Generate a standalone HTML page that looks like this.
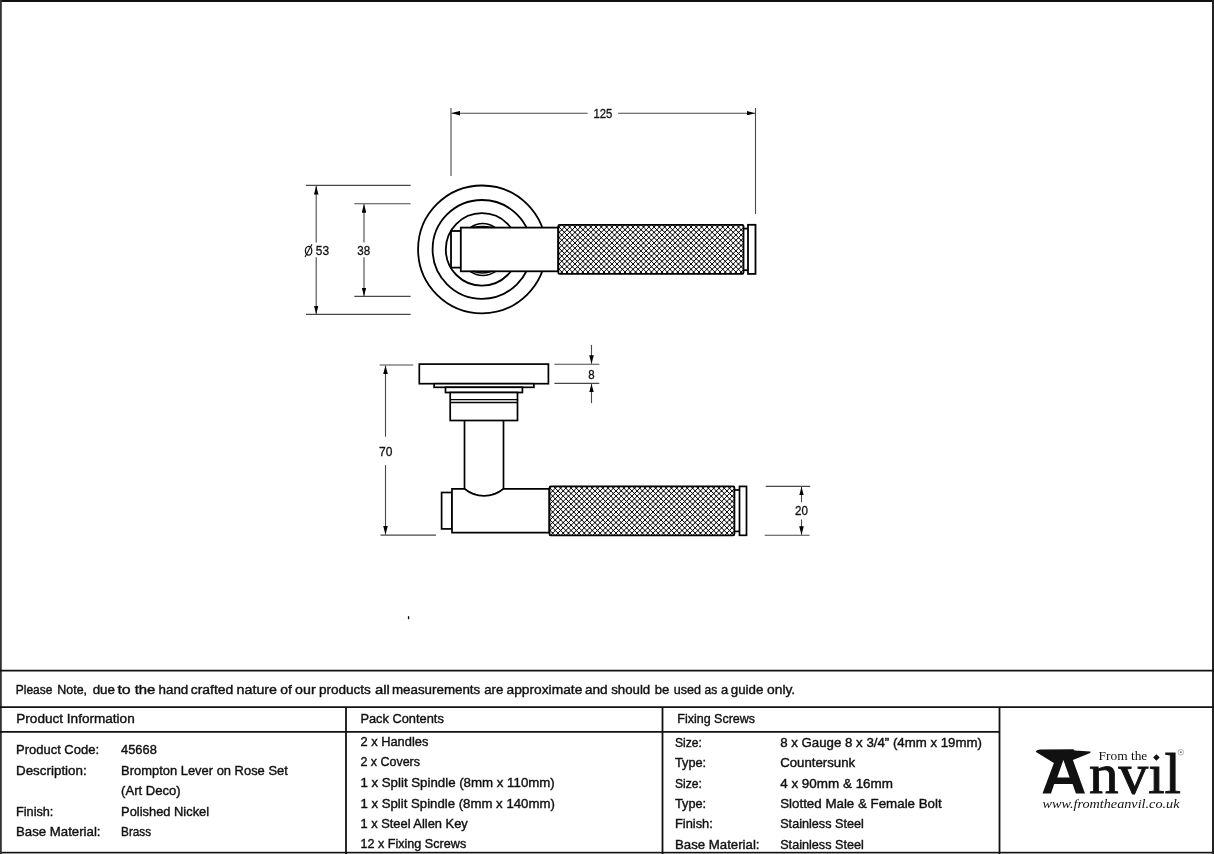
<!DOCTYPE html>
<html><head><meta charset="utf-8">
<style>
html,body{margin:0;padding:0;background:#fff;width:1214px;height:854px;overflow:hidden}
svg{display:block;will-change:transform}
.t{font-family:"Liberation Sans",sans-serif;font-size:13px;fill:#111;stroke:#111;stroke-width:0.4px}
.d{font-family:"Liberation Sans",sans-serif;font-size:13.4px;fill:#111;stroke:#111;stroke-width:0.32px}
</style></head><body>
<svg width="1214" height="854" viewBox="0 0 1214 854">
<defs>
<marker id="ar" viewBox="0 0 8.5 4.6" refX="8.5" refY="2.3" markerWidth="8.5" markerHeight="4.6" markerUnits="userSpaceOnUse" orient="auto">
<path d="M0 0L8.5 2.3L0 4.6z" fill="#000"/>
</marker>
</defs>
<rect x="0" y="0" width="1214" height="2" fill="#111"/>
<rect x="0" y="851.8" width="1214" height="1.4" fill="#111"/><rect x="0" y="853.2" width="1214" height="0.8" fill="#888"/>
<rect x="0" y="0" width="1.8" height="854" fill="#333"/>
<rect x="1212" y="0" width="2" height="854" fill="#222"/>

<!-- ===== TOP VIEW ===== -->
<g fill="none" stroke="#484848" stroke-width="1.1">
 <!-- 125 -->
 <line x1="451" y1="108" x2="451" y2="176"/>
 <line x1="755.5" y1="108" x2="755.5" y2="214"/>
 <line x1="587.6" y1="113.2" x2="451.5" y2="113.2" marker-end="url(#ar)"/>
 <line x1="618.1" y1="113.2" x2="755" y2="113.2" marker-end="url(#ar)"/>
 <!-- Ø53 -->
 <line x1="306" y1="185.4" x2="410.6" y2="185.4"/>
 <line x1="306" y1="314.4" x2="410.6" y2="314.4"/>
 <line x1="316.2" y1="242.4" x2="316.2" y2="186" marker-end="url(#ar)"/>
 <line x1="316.2" y1="257.2" x2="316.2" y2="314" marker-end="url(#ar)"/>
 <!-- 38 -->
 <line x1="354.3" y1="203.7" x2="410.6" y2="203.7"/>
 <line x1="354.3" y1="296.4" x2="410.6" y2="296.4"/>
 <line x1="364" y1="242.4" x2="364" y2="204.2" marker-end="url(#ar)"/>
 <line x1="364" y1="257.2" x2="364" y2="296" marker-end="url(#ar)"/>
</g>
<ellipse cx="308.6" cy="250.7" rx="3.2" ry="4.4" fill="none" stroke="#111" stroke-width="1.25"/><line x1="305" y1="257" x2="312" y2="244.3" stroke="#111" stroke-width="1.1"/>
<text class="d" x="315.8" y="255.3" textLength="13.3" lengthAdjust="spacingAndGlyphs">53</text>
<text class="d" x="357.3" y="255.3" textLength="12.9" lengthAdjust="spacingAndGlyphs">38</text>
<text class="d" x="593.4" y="117.6" textLength="18.9" lengthAdjust="spacingAndGlyphs">125</text>

<g fill="#fff" stroke="#000" stroke-width="1.8">
 <circle cx="482" cy="249.4" r="63.9"/>
 <circle cx="482" cy="249.4" r="49.4"/>
 <circle cx="482" cy="249.4" r="36.2"/>
  <rect x="451" y="231" width="10" height="36.6"/>
 <rect x="460.8" y="227.6" width="97.5" height="43.7"/>
 <path d="M470.2 227.6Q482.75 219.6 495.3 227.6M473 227.6Q482.5 225.6 492 227.6M469.9 271.3Q482.85 279.5 495.8 271.3M473 271.3Q482.5 274.5 492 271.3" fill="none" stroke-width="1.5"/>
 <line x1="743.5" y1="228.6" x2="748" y2="228.6"/>
 <line x1="743.5" y1="270.2" x2="748" y2="270.2"/>
 <rect x="748" y="224.8" width="7.5" height="49.1"/>
</g>
<clipPath id="c1"><rect x="558.3" y="224.8" width="185.2" height="49.1" rx="1.3"/></clipPath><rect x="558.3" y="224.8" width="185.2" height="49.1" rx="1.3" fill="#fff"/><g clip-path="url(#c1)"><path d="M555.30 281.30L746.50 472.50M555.30 276.02L746.50 467.22M555.30 270.75L746.50 461.95M555.30 265.47L746.50 456.67M555.30 260.20L746.50 451.40M555.30 254.92L746.50 446.12M555.30 249.64L746.50 440.84M555.30 244.37L746.50 435.57M555.30 239.09L746.50 430.29M555.30 233.82L746.50 425.02M555.30 228.54L746.50 419.74M555.30 223.26L746.50 414.46M555.30 217.99L746.50 409.19M555.30 212.71L746.50 403.91M555.30 207.44L746.50 398.64M555.30 202.16L746.50 393.36M555.30 196.88L746.50 388.08M555.30 191.61L746.50 382.81M555.30 186.33L746.50 377.53M555.30 181.06L746.50 372.26M555.30 175.78L746.50 366.98M555.30 170.50L746.50 361.70M555.30 165.23L746.50 356.43M555.30 159.95L746.50 351.15M555.30 154.68L746.50 345.88M555.30 149.40L746.50 340.60M555.30 144.12L746.50 335.32M555.30 138.85L746.50 330.05M555.30 133.57L746.50 324.77M555.30 128.30L746.50 319.50M555.30 123.02L746.50 314.22M555.30 117.74L746.50 308.94M555.30 112.47L746.50 303.67M555.30 107.19L746.50 298.39M555.30 101.92L746.50 293.12M555.30 96.64L746.50 287.84M555.30 91.36L746.50 282.56M555.30 86.09L746.50 277.29M555.30 80.81L746.50 272.01M555.30 75.54L746.50 266.74M555.30 70.26L746.50 261.46M555.30 64.98L746.50 256.18M555.30 59.71L746.50 250.91M555.30 54.43L746.50 245.63M555.30 49.16L746.50 240.36M555.30 43.88L746.50 235.08M555.30 38.60L746.50 229.80M555.30 33.33L746.50 224.53M555.30 28.05L746.50 219.25M555.30 220.34L746.50 29.14M555.30 225.62L746.50 34.42M555.30 230.89L746.50 39.69M555.30 236.17L746.50 44.97M555.30 241.44L746.50 50.24M555.30 246.72L746.50 55.52M555.30 252.00L746.50 60.80M555.30 257.27L746.50 66.07M555.30 262.55L746.50 71.35M555.30 267.82L746.50 76.62M555.30 273.10L746.50 81.90M555.30 278.38L746.50 87.18M555.30 283.65L746.50 92.45M555.30 288.93L746.50 97.73M555.30 294.20L746.50 103.00M555.30 299.48L746.50 108.28M555.30 304.76L746.50 113.56M555.30 310.03L746.50 118.83M555.30 315.31L746.50 124.11M555.30 320.58L746.50 129.38M555.30 325.86L746.50 134.66M555.30 331.14L746.50 139.94M555.30 336.41L746.50 145.21M555.30 341.69L746.50 150.49M555.30 346.96L746.50 155.76M555.30 352.24L746.50 161.04M555.30 357.52L746.50 166.32M555.30 362.79L746.50 171.59M555.30 368.07L746.50 176.87M555.30 373.34L746.50 182.14M555.30 378.62L746.50 187.42M555.30 383.90L746.50 192.70M555.30 389.17L746.50 197.97M555.30 394.45L746.50 203.25M555.30 399.72L746.50 208.52M555.30 405.00L746.50 213.80M555.30 410.28L746.50 219.08M555.30 415.55L746.50 224.35M555.30 420.83L746.50 229.63M555.30 426.10L746.50 234.90M555.30 431.38L746.50 240.18M555.30 436.66L746.50 245.46M555.30 441.93L746.50 250.73M555.30 447.21L746.50 256.01M555.30 452.48L746.50 261.28M555.30 457.76L746.50 266.56M555.30 463.04L746.50 271.84M555.30 468.31L746.50 277.11" stroke="#000" stroke-width="1.0" fill="none"/><path d="M561.00 224.44a0.75 0.75 0 1 0 1.50 0a0.75 0.75 0 1 0 -1.50 0M558.36 227.08a0.75 0.75 0 1 0 1.50 0a0.75 0.75 0 1 0 -1.50 0M561.00 229.72a0.75 0.75 0 1 0 1.50 0a0.75 0.75 0 1 0 -1.50 0M558.36 232.35a0.75 0.75 0 1 0 1.50 0a0.75 0.75 0 1 0 -1.50 0M561.00 234.99a0.75 0.75 0 1 0 1.50 0a0.75 0.75 0 1 0 -1.50 0M558.36 237.63a0.75 0.75 0 1 0 1.50 0a0.75 0.75 0 1 0 -1.50 0M561.00 240.27a0.75 0.75 0 1 0 1.50 0a0.75 0.75 0 1 0 -1.50 0M558.36 242.91a0.75 0.75 0 1 0 1.50 0a0.75 0.75 0 1 0 -1.50 0M561.00 245.54a0.75 0.75 0 1 0 1.50 0a0.75 0.75 0 1 0 -1.50 0M558.36 248.18a0.75 0.75 0 1 0 1.50 0a0.75 0.75 0 1 0 -1.50 0M561.00 250.82a0.75 0.75 0 1 0 1.50 0a0.75 0.75 0 1 0 -1.50 0M558.36 253.46a0.75 0.75 0 1 0 1.50 0a0.75 0.75 0 1 0 -1.50 0M561.00 256.10a0.75 0.75 0 1 0 1.50 0a0.75 0.75 0 1 0 -1.50 0M558.36 258.73a0.75 0.75 0 1 0 1.50 0a0.75 0.75 0 1 0 -1.50 0M561.00 261.37a0.75 0.75 0 1 0 1.50 0a0.75 0.75 0 1 0 -1.50 0M558.36 264.01a0.75 0.75 0 1 0 1.50 0a0.75 0.75 0 1 0 -1.50 0M561.00 266.65a0.75 0.75 0 1 0 1.50 0a0.75 0.75 0 1 0 -1.50 0M558.36 269.29a0.75 0.75 0 1 0 1.50 0a0.75 0.75 0 1 0 -1.50 0M561.00 271.92a0.75 0.75 0 1 0 1.50 0a0.75 0.75 0 1 0 -1.50 0M558.36 274.56a0.75 0.75 0 1 0 1.50 0a0.75 0.75 0 1 0 -1.50 0M566.28 224.44a0.75 0.75 0 1 0 1.50 0a0.75 0.75 0 1 0 -1.50 0M563.64 227.08a0.75 0.75 0 1 0 1.50 0a0.75 0.75 0 1 0 -1.50 0M566.28 229.72a0.75 0.75 0 1 0 1.50 0a0.75 0.75 0 1 0 -1.50 0M563.64 232.35a0.75 0.75 0 1 0 1.50 0a0.75 0.75 0 1 0 -1.50 0M566.28 234.99a0.75 0.75 0 1 0 1.50 0a0.75 0.75 0 1 0 -1.50 0M563.64 237.63a0.75 0.75 0 1 0 1.50 0a0.75 0.75 0 1 0 -1.50 0M566.28 240.27a0.75 0.75 0 1 0 1.50 0a0.75 0.75 0 1 0 -1.50 0M563.64 242.91a0.75 0.75 0 1 0 1.50 0a0.75 0.75 0 1 0 -1.50 0M566.28 245.54a0.75 0.75 0 1 0 1.50 0a0.75 0.75 0 1 0 -1.50 0M563.64 248.18a0.75 0.75 0 1 0 1.50 0a0.75 0.75 0 1 0 -1.50 0M566.28 250.82a0.75 0.75 0 1 0 1.50 0a0.75 0.75 0 1 0 -1.50 0M563.64 253.46a0.75 0.75 0 1 0 1.50 0a0.75 0.75 0 1 0 -1.50 0M566.28 256.10a0.75 0.75 0 1 0 1.50 0a0.75 0.75 0 1 0 -1.50 0M563.64 258.73a0.75 0.75 0 1 0 1.50 0a0.75 0.75 0 1 0 -1.50 0M566.28 261.37a0.75 0.75 0 1 0 1.50 0a0.75 0.75 0 1 0 -1.50 0M563.64 264.01a0.75 0.75 0 1 0 1.50 0a0.75 0.75 0 1 0 -1.50 0M566.28 266.65a0.75 0.75 0 1 0 1.50 0a0.75 0.75 0 1 0 -1.50 0M563.64 269.29a0.75 0.75 0 1 0 1.50 0a0.75 0.75 0 1 0 -1.50 0M566.28 271.92a0.75 0.75 0 1 0 1.50 0a0.75 0.75 0 1 0 -1.50 0M563.64 274.56a0.75 0.75 0 1 0 1.50 0a0.75 0.75 0 1 0 -1.50 0M571.55 224.44a0.75 0.75 0 1 0 1.50 0a0.75 0.75 0 1 0 -1.50 0M568.92 227.08a0.75 0.75 0 1 0 1.50 0a0.75 0.75 0 1 0 -1.50 0M571.55 229.72a0.75 0.75 0 1 0 1.50 0a0.75 0.75 0 1 0 -1.50 0M568.92 232.35a0.75 0.75 0 1 0 1.50 0a0.75 0.75 0 1 0 -1.50 0M571.55 234.99a0.75 0.75 0 1 0 1.50 0a0.75 0.75 0 1 0 -1.50 0M568.92 237.63a0.75 0.75 0 1 0 1.50 0a0.75 0.75 0 1 0 -1.50 0M571.55 240.27a0.75 0.75 0 1 0 1.50 0a0.75 0.75 0 1 0 -1.50 0M568.92 242.91a0.75 0.75 0 1 0 1.50 0a0.75 0.75 0 1 0 -1.50 0M571.55 245.54a0.75 0.75 0 1 0 1.50 0a0.75 0.75 0 1 0 -1.50 0M568.92 248.18a0.75 0.75 0 1 0 1.50 0a0.75 0.75 0 1 0 -1.50 0M571.55 250.82a0.75 0.75 0 1 0 1.50 0a0.75 0.75 0 1 0 -1.50 0M568.92 253.46a0.75 0.75 0 1 0 1.50 0a0.75 0.75 0 1 0 -1.50 0M571.55 256.10a0.75 0.75 0 1 0 1.50 0a0.75 0.75 0 1 0 -1.50 0M568.92 258.73a0.75 0.75 0 1 0 1.50 0a0.75 0.75 0 1 0 -1.50 0M571.55 261.37a0.75 0.75 0 1 0 1.50 0a0.75 0.75 0 1 0 -1.50 0M568.92 264.01a0.75 0.75 0 1 0 1.50 0a0.75 0.75 0 1 0 -1.50 0M571.55 266.65a0.75 0.75 0 1 0 1.50 0a0.75 0.75 0 1 0 -1.50 0M568.92 269.29a0.75 0.75 0 1 0 1.50 0a0.75 0.75 0 1 0 -1.50 0M571.55 271.92a0.75 0.75 0 1 0 1.50 0a0.75 0.75 0 1 0 -1.50 0M568.92 274.56a0.75 0.75 0 1 0 1.50 0a0.75 0.75 0 1 0 -1.50 0M576.83 224.44a0.75 0.75 0 1 0 1.50 0a0.75 0.75 0 1 0 -1.50 0M574.19 227.08a0.75 0.75 0 1 0 1.50 0a0.75 0.75 0 1 0 -1.50 0M576.83 229.72a0.75 0.75 0 1 0 1.50 0a0.75 0.75 0 1 0 -1.50 0M574.19 232.35a0.75 0.75 0 1 0 1.50 0a0.75 0.75 0 1 0 -1.50 0M576.83 234.99a0.75 0.75 0 1 0 1.50 0a0.75 0.75 0 1 0 -1.50 0M574.19 237.63a0.75 0.75 0 1 0 1.50 0a0.75 0.75 0 1 0 -1.50 0M576.83 240.27a0.75 0.75 0 1 0 1.50 0a0.75 0.75 0 1 0 -1.50 0M574.19 242.91a0.75 0.75 0 1 0 1.50 0a0.75 0.75 0 1 0 -1.50 0M576.83 245.54a0.75 0.75 0 1 0 1.50 0a0.75 0.75 0 1 0 -1.50 0M574.19 248.18a0.75 0.75 0 1 0 1.50 0a0.75 0.75 0 1 0 -1.50 0M576.83 250.82a0.75 0.75 0 1 0 1.50 0a0.75 0.75 0 1 0 -1.50 0M574.19 253.46a0.75 0.75 0 1 0 1.50 0a0.75 0.75 0 1 0 -1.50 0M576.83 256.10a0.75 0.75 0 1 0 1.50 0a0.75 0.75 0 1 0 -1.50 0M574.19 258.73a0.75 0.75 0 1 0 1.50 0a0.75 0.75 0 1 0 -1.50 0M576.83 261.37a0.75 0.75 0 1 0 1.50 0a0.75 0.75 0 1 0 -1.50 0M574.19 264.01a0.75 0.75 0 1 0 1.50 0a0.75 0.75 0 1 0 -1.50 0M576.83 266.65a0.75 0.75 0 1 0 1.50 0a0.75 0.75 0 1 0 -1.50 0M574.19 269.29a0.75 0.75 0 1 0 1.50 0a0.75 0.75 0 1 0 -1.50 0M576.83 271.92a0.75 0.75 0 1 0 1.50 0a0.75 0.75 0 1 0 -1.50 0M574.19 274.56a0.75 0.75 0 1 0 1.50 0a0.75 0.75 0 1 0 -1.50 0M582.11 224.44a0.75 0.75 0 1 0 1.50 0a0.75 0.75 0 1 0 -1.50 0M579.47 227.08a0.75 0.75 0 1 0 1.50 0a0.75 0.75 0 1 0 -1.50 0M582.11 229.72a0.75 0.75 0 1 0 1.50 0a0.75 0.75 0 1 0 -1.50 0M579.47 232.35a0.75 0.75 0 1 0 1.50 0a0.75 0.75 0 1 0 -1.50 0M582.11 234.99a0.75 0.75 0 1 0 1.50 0a0.75 0.75 0 1 0 -1.50 0M579.47 237.63a0.75 0.75 0 1 0 1.50 0a0.75 0.75 0 1 0 -1.50 0M582.11 240.27a0.75 0.75 0 1 0 1.50 0a0.75 0.75 0 1 0 -1.50 0M579.47 242.91a0.75 0.75 0 1 0 1.50 0a0.75 0.75 0 1 0 -1.50 0M582.11 245.54a0.75 0.75 0 1 0 1.50 0a0.75 0.75 0 1 0 -1.50 0M579.47 248.18a0.75 0.75 0 1 0 1.50 0a0.75 0.75 0 1 0 -1.50 0M582.11 250.82a0.75 0.75 0 1 0 1.50 0a0.75 0.75 0 1 0 -1.50 0M579.47 253.46a0.75 0.75 0 1 0 1.50 0a0.75 0.75 0 1 0 -1.50 0M582.11 256.10a0.75 0.75 0 1 0 1.50 0a0.75 0.75 0 1 0 -1.50 0M579.47 258.73a0.75 0.75 0 1 0 1.50 0a0.75 0.75 0 1 0 -1.50 0M582.11 261.37a0.75 0.75 0 1 0 1.50 0a0.75 0.75 0 1 0 -1.50 0M579.47 264.01a0.75 0.75 0 1 0 1.50 0a0.75 0.75 0 1 0 -1.50 0M582.11 266.65a0.75 0.75 0 1 0 1.50 0a0.75 0.75 0 1 0 -1.50 0M579.47 269.29a0.75 0.75 0 1 0 1.50 0a0.75 0.75 0 1 0 -1.50 0M582.11 271.92a0.75 0.75 0 1 0 1.50 0a0.75 0.75 0 1 0 -1.50 0M579.47 274.56a0.75 0.75 0 1 0 1.50 0a0.75 0.75 0 1 0 -1.50 0M587.38 224.44a0.75 0.75 0 1 0 1.50 0a0.75 0.75 0 1 0 -1.50 0M584.74 227.08a0.75 0.75 0 1 0 1.50 0a0.75 0.75 0 1 0 -1.50 0M587.38 229.72a0.75 0.75 0 1 0 1.50 0a0.75 0.75 0 1 0 -1.50 0M584.74 232.35a0.75 0.75 0 1 0 1.50 0a0.75 0.75 0 1 0 -1.50 0M587.38 234.99a0.75 0.75 0 1 0 1.50 0a0.75 0.75 0 1 0 -1.50 0M584.74 237.63a0.75 0.75 0 1 0 1.50 0a0.75 0.75 0 1 0 -1.50 0M587.38 240.27a0.75 0.75 0 1 0 1.50 0a0.75 0.75 0 1 0 -1.50 0M584.74 242.91a0.75 0.75 0 1 0 1.50 0a0.75 0.75 0 1 0 -1.50 0M587.38 245.54a0.75 0.75 0 1 0 1.50 0a0.75 0.75 0 1 0 -1.50 0M584.74 248.18a0.75 0.75 0 1 0 1.50 0a0.75 0.75 0 1 0 -1.50 0M587.38 250.82a0.75 0.75 0 1 0 1.50 0a0.75 0.75 0 1 0 -1.50 0M584.74 253.46a0.75 0.75 0 1 0 1.50 0a0.75 0.75 0 1 0 -1.50 0M587.38 256.10a0.75 0.75 0 1 0 1.50 0a0.75 0.75 0 1 0 -1.50 0M584.74 258.73a0.75 0.75 0 1 0 1.50 0a0.75 0.75 0 1 0 -1.50 0M587.38 261.37a0.75 0.75 0 1 0 1.50 0a0.75 0.75 0 1 0 -1.50 0M584.74 264.01a0.75 0.75 0 1 0 1.50 0a0.75 0.75 0 1 0 -1.50 0M587.38 266.65a0.75 0.75 0 1 0 1.50 0a0.75 0.75 0 1 0 -1.50 0M584.74 269.29a0.75 0.75 0 1 0 1.50 0a0.75 0.75 0 1 0 -1.50 0M587.38 271.92a0.75 0.75 0 1 0 1.50 0a0.75 0.75 0 1 0 -1.50 0M584.74 274.56a0.75 0.75 0 1 0 1.50 0a0.75 0.75 0 1 0 -1.50 0M592.66 224.44a0.75 0.75 0 1 0 1.50 0a0.75 0.75 0 1 0 -1.50 0M590.02 227.08a0.75 0.75 0 1 0 1.50 0a0.75 0.75 0 1 0 -1.50 0M592.66 229.72a0.75 0.75 0 1 0 1.50 0a0.75 0.75 0 1 0 -1.50 0M590.02 232.35a0.75 0.75 0 1 0 1.50 0a0.75 0.75 0 1 0 -1.50 0M592.66 234.99a0.75 0.75 0 1 0 1.50 0a0.75 0.75 0 1 0 -1.50 0M590.02 237.63a0.75 0.75 0 1 0 1.50 0a0.75 0.75 0 1 0 -1.50 0M592.66 240.27a0.75 0.75 0 1 0 1.50 0a0.75 0.75 0 1 0 -1.50 0M590.02 242.91a0.75 0.75 0 1 0 1.50 0a0.75 0.75 0 1 0 -1.50 0M592.66 245.54a0.75 0.75 0 1 0 1.50 0a0.75 0.75 0 1 0 -1.50 0M590.02 248.18a0.75 0.75 0 1 0 1.50 0a0.75 0.75 0 1 0 -1.50 0M592.66 250.82a0.75 0.75 0 1 0 1.50 0a0.75 0.75 0 1 0 -1.50 0M590.02 253.46a0.75 0.75 0 1 0 1.50 0a0.75 0.75 0 1 0 -1.50 0M592.66 256.10a0.75 0.75 0 1 0 1.50 0a0.75 0.75 0 1 0 -1.50 0M590.02 258.73a0.75 0.75 0 1 0 1.50 0a0.75 0.75 0 1 0 -1.50 0M592.66 261.37a0.75 0.75 0 1 0 1.50 0a0.75 0.75 0 1 0 -1.50 0M590.02 264.01a0.75 0.75 0 1 0 1.50 0a0.75 0.75 0 1 0 -1.50 0M592.66 266.65a0.75 0.75 0 1 0 1.50 0a0.75 0.75 0 1 0 -1.50 0M590.02 269.29a0.75 0.75 0 1 0 1.50 0a0.75 0.75 0 1 0 -1.50 0M592.66 271.92a0.75 0.75 0 1 0 1.50 0a0.75 0.75 0 1 0 -1.50 0M590.02 274.56a0.75 0.75 0 1 0 1.50 0a0.75 0.75 0 1 0 -1.50 0M597.93 224.44a0.75 0.75 0 1 0 1.50 0a0.75 0.75 0 1 0 -1.50 0M595.30 227.08a0.75 0.75 0 1 0 1.50 0a0.75 0.75 0 1 0 -1.50 0M597.93 229.72a0.75 0.75 0 1 0 1.50 0a0.75 0.75 0 1 0 -1.50 0M595.30 232.35a0.75 0.75 0 1 0 1.50 0a0.75 0.75 0 1 0 -1.50 0M597.93 234.99a0.75 0.75 0 1 0 1.50 0a0.75 0.75 0 1 0 -1.50 0M595.30 237.63a0.75 0.75 0 1 0 1.50 0a0.75 0.75 0 1 0 -1.50 0M597.93 240.27a0.75 0.75 0 1 0 1.50 0a0.75 0.75 0 1 0 -1.50 0M595.30 242.91a0.75 0.75 0 1 0 1.50 0a0.75 0.75 0 1 0 -1.50 0M597.93 245.54a0.75 0.75 0 1 0 1.50 0a0.75 0.75 0 1 0 -1.50 0M595.30 248.18a0.75 0.75 0 1 0 1.50 0a0.75 0.75 0 1 0 -1.50 0M597.93 250.82a0.75 0.75 0 1 0 1.50 0a0.75 0.75 0 1 0 -1.50 0M595.30 253.46a0.75 0.75 0 1 0 1.50 0a0.75 0.75 0 1 0 -1.50 0M597.93 256.10a0.75 0.75 0 1 0 1.50 0a0.75 0.75 0 1 0 -1.50 0M595.30 258.73a0.75 0.75 0 1 0 1.50 0a0.75 0.75 0 1 0 -1.50 0M597.93 261.37a0.75 0.75 0 1 0 1.50 0a0.75 0.75 0 1 0 -1.50 0M595.30 264.01a0.75 0.75 0 1 0 1.50 0a0.75 0.75 0 1 0 -1.50 0M597.93 266.65a0.75 0.75 0 1 0 1.50 0a0.75 0.75 0 1 0 -1.50 0M595.30 269.29a0.75 0.75 0 1 0 1.50 0a0.75 0.75 0 1 0 -1.50 0M597.93 271.92a0.75 0.75 0 1 0 1.50 0a0.75 0.75 0 1 0 -1.50 0M595.30 274.56a0.75 0.75 0 1 0 1.50 0a0.75 0.75 0 1 0 -1.50 0M603.21 224.44a0.75 0.75 0 1 0 1.50 0a0.75 0.75 0 1 0 -1.50 0M600.57 227.08a0.75 0.75 0 1 0 1.50 0a0.75 0.75 0 1 0 -1.50 0M603.21 229.72a0.75 0.75 0 1 0 1.50 0a0.75 0.75 0 1 0 -1.50 0M600.57 232.35a0.75 0.75 0 1 0 1.50 0a0.75 0.75 0 1 0 -1.50 0M603.21 234.99a0.75 0.75 0 1 0 1.50 0a0.75 0.75 0 1 0 -1.50 0M600.57 237.63a0.75 0.75 0 1 0 1.50 0a0.75 0.75 0 1 0 -1.50 0M603.21 240.27a0.75 0.75 0 1 0 1.50 0a0.75 0.75 0 1 0 -1.50 0M600.57 242.91a0.75 0.75 0 1 0 1.50 0a0.75 0.75 0 1 0 -1.50 0M603.21 245.54a0.75 0.75 0 1 0 1.50 0a0.75 0.75 0 1 0 -1.50 0M600.57 248.18a0.75 0.75 0 1 0 1.50 0a0.75 0.75 0 1 0 -1.50 0M603.21 250.82a0.75 0.75 0 1 0 1.50 0a0.75 0.75 0 1 0 -1.50 0M600.57 253.46a0.75 0.75 0 1 0 1.50 0a0.75 0.75 0 1 0 -1.50 0M603.21 256.10a0.75 0.75 0 1 0 1.50 0a0.75 0.75 0 1 0 -1.50 0M600.57 258.73a0.75 0.75 0 1 0 1.50 0a0.75 0.75 0 1 0 -1.50 0M603.21 261.37a0.75 0.75 0 1 0 1.50 0a0.75 0.75 0 1 0 -1.50 0M600.57 264.01a0.75 0.75 0 1 0 1.50 0a0.75 0.75 0 1 0 -1.50 0M603.21 266.65a0.75 0.75 0 1 0 1.50 0a0.75 0.75 0 1 0 -1.50 0M600.57 269.29a0.75 0.75 0 1 0 1.50 0a0.75 0.75 0 1 0 -1.50 0M603.21 271.92a0.75 0.75 0 1 0 1.50 0a0.75 0.75 0 1 0 -1.50 0M600.57 274.56a0.75 0.75 0 1 0 1.50 0a0.75 0.75 0 1 0 -1.50 0M608.49 224.44a0.75 0.75 0 1 0 1.50 0a0.75 0.75 0 1 0 -1.50 0M605.85 227.08a0.75 0.75 0 1 0 1.50 0a0.75 0.75 0 1 0 -1.50 0M608.49 229.72a0.75 0.75 0 1 0 1.50 0a0.75 0.75 0 1 0 -1.50 0M605.85 232.35a0.75 0.75 0 1 0 1.50 0a0.75 0.75 0 1 0 -1.50 0M608.49 234.99a0.75 0.75 0 1 0 1.50 0a0.75 0.75 0 1 0 -1.50 0M605.85 237.63a0.75 0.75 0 1 0 1.50 0a0.75 0.75 0 1 0 -1.50 0M608.49 240.27a0.75 0.75 0 1 0 1.50 0a0.75 0.75 0 1 0 -1.50 0M605.85 242.91a0.75 0.75 0 1 0 1.50 0a0.75 0.75 0 1 0 -1.50 0M608.49 245.54a0.75 0.75 0 1 0 1.50 0a0.75 0.75 0 1 0 -1.50 0M605.85 248.18a0.75 0.75 0 1 0 1.50 0a0.75 0.75 0 1 0 -1.50 0M608.49 250.82a0.75 0.75 0 1 0 1.50 0a0.75 0.75 0 1 0 -1.50 0M605.85 253.46a0.75 0.75 0 1 0 1.50 0a0.75 0.75 0 1 0 -1.50 0M608.49 256.10a0.75 0.75 0 1 0 1.50 0a0.75 0.75 0 1 0 -1.50 0M605.85 258.73a0.75 0.75 0 1 0 1.50 0a0.75 0.75 0 1 0 -1.50 0M608.49 261.37a0.75 0.75 0 1 0 1.50 0a0.75 0.75 0 1 0 -1.50 0M605.85 264.01a0.75 0.75 0 1 0 1.50 0a0.75 0.75 0 1 0 -1.50 0M608.49 266.65a0.75 0.75 0 1 0 1.50 0a0.75 0.75 0 1 0 -1.50 0M605.85 269.29a0.75 0.75 0 1 0 1.50 0a0.75 0.75 0 1 0 -1.50 0M608.49 271.92a0.75 0.75 0 1 0 1.50 0a0.75 0.75 0 1 0 -1.50 0M605.85 274.56a0.75 0.75 0 1 0 1.50 0a0.75 0.75 0 1 0 -1.50 0M613.76 224.44a0.75 0.75 0 1 0 1.50 0a0.75 0.75 0 1 0 -1.50 0M611.12 227.08a0.75 0.75 0 1 0 1.50 0a0.75 0.75 0 1 0 -1.50 0M613.76 229.72a0.75 0.75 0 1 0 1.50 0a0.75 0.75 0 1 0 -1.50 0M611.12 232.35a0.75 0.75 0 1 0 1.50 0a0.75 0.75 0 1 0 -1.50 0M613.76 234.99a0.75 0.75 0 1 0 1.50 0a0.75 0.75 0 1 0 -1.50 0M611.12 237.63a0.75 0.75 0 1 0 1.50 0a0.75 0.75 0 1 0 -1.50 0M613.76 240.27a0.75 0.75 0 1 0 1.50 0a0.75 0.75 0 1 0 -1.50 0M611.12 242.91a0.75 0.75 0 1 0 1.50 0a0.75 0.75 0 1 0 -1.50 0M613.76 245.54a0.75 0.75 0 1 0 1.50 0a0.75 0.75 0 1 0 -1.50 0M611.12 248.18a0.75 0.75 0 1 0 1.50 0a0.75 0.75 0 1 0 -1.50 0M613.76 250.82a0.75 0.75 0 1 0 1.50 0a0.75 0.75 0 1 0 -1.50 0M611.12 253.46a0.75 0.75 0 1 0 1.50 0a0.75 0.75 0 1 0 -1.50 0M613.76 256.10a0.75 0.75 0 1 0 1.50 0a0.75 0.75 0 1 0 -1.50 0M611.12 258.73a0.75 0.75 0 1 0 1.50 0a0.75 0.75 0 1 0 -1.50 0M613.76 261.37a0.75 0.75 0 1 0 1.50 0a0.75 0.75 0 1 0 -1.50 0M611.12 264.01a0.75 0.75 0 1 0 1.50 0a0.75 0.75 0 1 0 -1.50 0M613.76 266.65a0.75 0.75 0 1 0 1.50 0a0.75 0.75 0 1 0 -1.50 0M611.12 269.29a0.75 0.75 0 1 0 1.50 0a0.75 0.75 0 1 0 -1.50 0M613.76 271.92a0.75 0.75 0 1 0 1.50 0a0.75 0.75 0 1 0 -1.50 0M611.12 274.56a0.75 0.75 0 1 0 1.50 0a0.75 0.75 0 1 0 -1.50 0M619.04 224.44a0.75 0.75 0 1 0 1.50 0a0.75 0.75 0 1 0 -1.50 0M616.40 227.08a0.75 0.75 0 1 0 1.50 0a0.75 0.75 0 1 0 -1.50 0M619.04 229.72a0.75 0.75 0 1 0 1.50 0a0.75 0.75 0 1 0 -1.50 0M616.40 232.35a0.75 0.75 0 1 0 1.50 0a0.75 0.75 0 1 0 -1.50 0M619.04 234.99a0.75 0.75 0 1 0 1.50 0a0.75 0.75 0 1 0 -1.50 0M616.40 237.63a0.75 0.75 0 1 0 1.50 0a0.75 0.75 0 1 0 -1.50 0M619.04 240.27a0.75 0.75 0 1 0 1.50 0a0.75 0.75 0 1 0 -1.50 0M616.40 242.91a0.75 0.75 0 1 0 1.50 0a0.75 0.75 0 1 0 -1.50 0M619.04 245.54a0.75 0.75 0 1 0 1.50 0a0.75 0.75 0 1 0 -1.50 0M616.40 248.18a0.75 0.75 0 1 0 1.50 0a0.75 0.75 0 1 0 -1.50 0M619.04 250.82a0.75 0.75 0 1 0 1.50 0a0.75 0.75 0 1 0 -1.50 0M616.40 253.46a0.75 0.75 0 1 0 1.50 0a0.75 0.75 0 1 0 -1.50 0M619.04 256.10a0.75 0.75 0 1 0 1.50 0a0.75 0.75 0 1 0 -1.50 0M616.40 258.73a0.75 0.75 0 1 0 1.50 0a0.75 0.75 0 1 0 -1.50 0M619.04 261.37a0.75 0.75 0 1 0 1.50 0a0.75 0.75 0 1 0 -1.50 0M616.40 264.01a0.75 0.75 0 1 0 1.50 0a0.75 0.75 0 1 0 -1.50 0M619.04 266.65a0.75 0.75 0 1 0 1.50 0a0.75 0.75 0 1 0 -1.50 0M616.40 269.29a0.75 0.75 0 1 0 1.50 0a0.75 0.75 0 1 0 -1.50 0M619.04 271.92a0.75 0.75 0 1 0 1.50 0a0.75 0.75 0 1 0 -1.50 0M616.40 274.56a0.75 0.75 0 1 0 1.50 0a0.75 0.75 0 1 0 -1.50 0M624.31 224.44a0.75 0.75 0 1 0 1.50 0a0.75 0.75 0 1 0 -1.50 0M621.68 227.08a0.75 0.75 0 1 0 1.50 0a0.75 0.75 0 1 0 -1.50 0M624.31 229.72a0.75 0.75 0 1 0 1.50 0a0.75 0.75 0 1 0 -1.50 0M621.68 232.35a0.75 0.75 0 1 0 1.50 0a0.75 0.75 0 1 0 -1.50 0M624.31 234.99a0.75 0.75 0 1 0 1.50 0a0.75 0.75 0 1 0 -1.50 0M621.68 237.63a0.75 0.75 0 1 0 1.50 0a0.75 0.75 0 1 0 -1.50 0M624.31 240.27a0.75 0.75 0 1 0 1.50 0a0.75 0.75 0 1 0 -1.50 0M621.68 242.91a0.75 0.75 0 1 0 1.50 0a0.75 0.75 0 1 0 -1.50 0M624.31 245.54a0.75 0.75 0 1 0 1.50 0a0.75 0.75 0 1 0 -1.50 0M621.68 248.18a0.75 0.75 0 1 0 1.50 0a0.75 0.75 0 1 0 -1.50 0M624.31 250.82a0.75 0.75 0 1 0 1.50 0a0.75 0.75 0 1 0 -1.50 0M621.68 253.46a0.75 0.75 0 1 0 1.50 0a0.75 0.75 0 1 0 -1.50 0M624.31 256.10a0.75 0.75 0 1 0 1.50 0a0.75 0.75 0 1 0 -1.50 0M621.68 258.73a0.75 0.75 0 1 0 1.50 0a0.75 0.75 0 1 0 -1.50 0M624.31 261.37a0.75 0.75 0 1 0 1.50 0a0.75 0.75 0 1 0 -1.50 0M621.68 264.01a0.75 0.75 0 1 0 1.50 0a0.75 0.75 0 1 0 -1.50 0M624.31 266.65a0.75 0.75 0 1 0 1.50 0a0.75 0.75 0 1 0 -1.50 0M621.68 269.29a0.75 0.75 0 1 0 1.50 0a0.75 0.75 0 1 0 -1.50 0M624.31 271.92a0.75 0.75 0 1 0 1.50 0a0.75 0.75 0 1 0 -1.50 0M621.68 274.56a0.75 0.75 0 1 0 1.50 0a0.75 0.75 0 1 0 -1.50 0M629.59 224.44a0.75 0.75 0 1 0 1.50 0a0.75 0.75 0 1 0 -1.50 0M626.95 227.08a0.75 0.75 0 1 0 1.50 0a0.75 0.75 0 1 0 -1.50 0M629.59 229.72a0.75 0.75 0 1 0 1.50 0a0.75 0.75 0 1 0 -1.50 0M626.95 232.35a0.75 0.75 0 1 0 1.50 0a0.75 0.75 0 1 0 -1.50 0M629.59 234.99a0.75 0.75 0 1 0 1.50 0a0.75 0.75 0 1 0 -1.50 0M626.95 237.63a0.75 0.75 0 1 0 1.50 0a0.75 0.75 0 1 0 -1.50 0M629.59 240.27a0.75 0.75 0 1 0 1.50 0a0.75 0.75 0 1 0 -1.50 0M626.95 242.91a0.75 0.75 0 1 0 1.50 0a0.75 0.75 0 1 0 -1.50 0M629.59 245.54a0.75 0.75 0 1 0 1.50 0a0.75 0.75 0 1 0 -1.50 0M626.95 248.18a0.75 0.75 0 1 0 1.50 0a0.75 0.75 0 1 0 -1.50 0M629.59 250.82a0.75 0.75 0 1 0 1.50 0a0.75 0.75 0 1 0 -1.50 0M626.95 253.46a0.75 0.75 0 1 0 1.50 0a0.75 0.75 0 1 0 -1.50 0M629.59 256.10a0.75 0.75 0 1 0 1.50 0a0.75 0.75 0 1 0 -1.50 0M626.95 258.73a0.75 0.75 0 1 0 1.50 0a0.75 0.75 0 1 0 -1.50 0M629.59 261.37a0.75 0.75 0 1 0 1.50 0a0.75 0.75 0 1 0 -1.50 0M626.95 264.01a0.75 0.75 0 1 0 1.50 0a0.75 0.75 0 1 0 -1.50 0M629.59 266.65a0.75 0.75 0 1 0 1.50 0a0.75 0.75 0 1 0 -1.50 0M626.95 269.29a0.75 0.75 0 1 0 1.50 0a0.75 0.75 0 1 0 -1.50 0M629.59 271.92a0.75 0.75 0 1 0 1.50 0a0.75 0.75 0 1 0 -1.50 0M626.95 274.56a0.75 0.75 0 1 0 1.50 0a0.75 0.75 0 1 0 -1.50 0M634.87 224.44a0.75 0.75 0 1 0 1.50 0a0.75 0.75 0 1 0 -1.50 0M632.23 227.08a0.75 0.75 0 1 0 1.50 0a0.75 0.75 0 1 0 -1.50 0M634.87 229.72a0.75 0.75 0 1 0 1.50 0a0.75 0.75 0 1 0 -1.50 0M632.23 232.35a0.75 0.75 0 1 0 1.50 0a0.75 0.75 0 1 0 -1.50 0M634.87 234.99a0.75 0.75 0 1 0 1.50 0a0.75 0.75 0 1 0 -1.50 0M632.23 237.63a0.75 0.75 0 1 0 1.50 0a0.75 0.75 0 1 0 -1.50 0M634.87 240.27a0.75 0.75 0 1 0 1.50 0a0.75 0.75 0 1 0 -1.50 0M632.23 242.91a0.75 0.75 0 1 0 1.50 0a0.75 0.75 0 1 0 -1.50 0M634.87 245.54a0.75 0.75 0 1 0 1.50 0a0.75 0.75 0 1 0 -1.50 0M632.23 248.18a0.75 0.75 0 1 0 1.50 0a0.75 0.75 0 1 0 -1.50 0M634.87 250.82a0.75 0.75 0 1 0 1.50 0a0.75 0.75 0 1 0 -1.50 0M632.23 253.46a0.75 0.75 0 1 0 1.50 0a0.75 0.75 0 1 0 -1.50 0M634.87 256.10a0.75 0.75 0 1 0 1.50 0a0.75 0.75 0 1 0 -1.50 0M632.23 258.73a0.75 0.75 0 1 0 1.50 0a0.75 0.75 0 1 0 -1.50 0M634.87 261.37a0.75 0.75 0 1 0 1.50 0a0.75 0.75 0 1 0 -1.50 0M632.23 264.01a0.75 0.75 0 1 0 1.50 0a0.75 0.75 0 1 0 -1.50 0M634.87 266.65a0.75 0.75 0 1 0 1.50 0a0.75 0.75 0 1 0 -1.50 0M632.23 269.29a0.75 0.75 0 1 0 1.50 0a0.75 0.75 0 1 0 -1.50 0M634.87 271.92a0.75 0.75 0 1 0 1.50 0a0.75 0.75 0 1 0 -1.50 0M632.23 274.56a0.75 0.75 0 1 0 1.50 0a0.75 0.75 0 1 0 -1.50 0M640.14 224.44a0.75 0.75 0 1 0 1.50 0a0.75 0.75 0 1 0 -1.50 0M637.50 227.08a0.75 0.75 0 1 0 1.50 0a0.75 0.75 0 1 0 -1.50 0M640.14 229.72a0.75 0.75 0 1 0 1.50 0a0.75 0.75 0 1 0 -1.50 0M637.50 232.35a0.75 0.75 0 1 0 1.50 0a0.75 0.75 0 1 0 -1.50 0M640.14 234.99a0.75 0.75 0 1 0 1.50 0a0.75 0.75 0 1 0 -1.50 0M637.50 237.63a0.75 0.75 0 1 0 1.50 0a0.75 0.75 0 1 0 -1.50 0M640.14 240.27a0.75 0.75 0 1 0 1.50 0a0.75 0.75 0 1 0 -1.50 0M637.50 242.91a0.75 0.75 0 1 0 1.50 0a0.75 0.75 0 1 0 -1.50 0M640.14 245.54a0.75 0.75 0 1 0 1.50 0a0.75 0.75 0 1 0 -1.50 0M637.50 248.18a0.75 0.75 0 1 0 1.50 0a0.75 0.75 0 1 0 -1.50 0M640.14 250.82a0.75 0.75 0 1 0 1.50 0a0.75 0.75 0 1 0 -1.50 0M637.50 253.46a0.75 0.75 0 1 0 1.50 0a0.75 0.75 0 1 0 -1.50 0M640.14 256.10a0.75 0.75 0 1 0 1.50 0a0.75 0.75 0 1 0 -1.50 0M637.50 258.73a0.75 0.75 0 1 0 1.50 0a0.75 0.75 0 1 0 -1.50 0M640.14 261.37a0.75 0.75 0 1 0 1.50 0a0.75 0.75 0 1 0 -1.50 0M637.50 264.01a0.75 0.75 0 1 0 1.50 0a0.75 0.75 0 1 0 -1.50 0M640.14 266.65a0.75 0.75 0 1 0 1.50 0a0.75 0.75 0 1 0 -1.50 0M637.50 269.29a0.75 0.75 0 1 0 1.50 0a0.75 0.75 0 1 0 -1.50 0M640.14 271.92a0.75 0.75 0 1 0 1.50 0a0.75 0.75 0 1 0 -1.50 0M637.50 274.56a0.75 0.75 0 1 0 1.50 0a0.75 0.75 0 1 0 -1.50 0M645.42 224.44a0.75 0.75 0 1 0 1.50 0a0.75 0.75 0 1 0 -1.50 0M642.78 227.08a0.75 0.75 0 1 0 1.50 0a0.75 0.75 0 1 0 -1.50 0M645.42 229.72a0.75 0.75 0 1 0 1.50 0a0.75 0.75 0 1 0 -1.50 0M642.78 232.35a0.75 0.75 0 1 0 1.50 0a0.75 0.75 0 1 0 -1.50 0M645.42 234.99a0.75 0.75 0 1 0 1.50 0a0.75 0.75 0 1 0 -1.50 0M642.78 237.63a0.75 0.75 0 1 0 1.50 0a0.75 0.75 0 1 0 -1.50 0M645.42 240.27a0.75 0.75 0 1 0 1.50 0a0.75 0.75 0 1 0 -1.50 0M642.78 242.91a0.75 0.75 0 1 0 1.50 0a0.75 0.75 0 1 0 -1.50 0M645.42 245.54a0.75 0.75 0 1 0 1.50 0a0.75 0.75 0 1 0 -1.50 0M642.78 248.18a0.75 0.75 0 1 0 1.50 0a0.75 0.75 0 1 0 -1.50 0M645.42 250.82a0.75 0.75 0 1 0 1.50 0a0.75 0.75 0 1 0 -1.50 0M642.78 253.46a0.75 0.75 0 1 0 1.50 0a0.75 0.75 0 1 0 -1.50 0M645.42 256.10a0.75 0.75 0 1 0 1.50 0a0.75 0.75 0 1 0 -1.50 0M642.78 258.73a0.75 0.75 0 1 0 1.50 0a0.75 0.75 0 1 0 -1.50 0M645.42 261.37a0.75 0.75 0 1 0 1.50 0a0.75 0.75 0 1 0 -1.50 0M642.78 264.01a0.75 0.75 0 1 0 1.50 0a0.75 0.75 0 1 0 -1.50 0M645.42 266.65a0.75 0.75 0 1 0 1.50 0a0.75 0.75 0 1 0 -1.50 0M642.78 269.29a0.75 0.75 0 1 0 1.50 0a0.75 0.75 0 1 0 -1.50 0M645.42 271.92a0.75 0.75 0 1 0 1.50 0a0.75 0.75 0 1 0 -1.50 0M642.78 274.56a0.75 0.75 0 1 0 1.50 0a0.75 0.75 0 1 0 -1.50 0M650.69 224.44a0.75 0.75 0 1 0 1.50 0a0.75 0.75 0 1 0 -1.50 0M648.06 227.08a0.75 0.75 0 1 0 1.50 0a0.75 0.75 0 1 0 -1.50 0M650.69 229.72a0.75 0.75 0 1 0 1.50 0a0.75 0.75 0 1 0 -1.50 0M648.06 232.35a0.75 0.75 0 1 0 1.50 0a0.75 0.75 0 1 0 -1.50 0M650.69 234.99a0.75 0.75 0 1 0 1.50 0a0.75 0.75 0 1 0 -1.50 0M648.06 237.63a0.75 0.75 0 1 0 1.50 0a0.75 0.75 0 1 0 -1.50 0M650.69 240.27a0.75 0.75 0 1 0 1.50 0a0.75 0.75 0 1 0 -1.50 0M648.06 242.91a0.75 0.75 0 1 0 1.50 0a0.75 0.75 0 1 0 -1.50 0M650.69 245.54a0.75 0.75 0 1 0 1.50 0a0.75 0.75 0 1 0 -1.50 0M648.06 248.18a0.75 0.75 0 1 0 1.50 0a0.75 0.75 0 1 0 -1.50 0M650.69 250.82a0.75 0.75 0 1 0 1.50 0a0.75 0.75 0 1 0 -1.50 0M648.06 253.46a0.75 0.75 0 1 0 1.50 0a0.75 0.75 0 1 0 -1.50 0M650.69 256.10a0.75 0.75 0 1 0 1.50 0a0.75 0.75 0 1 0 -1.50 0M648.06 258.73a0.75 0.75 0 1 0 1.50 0a0.75 0.75 0 1 0 -1.50 0M650.69 261.37a0.75 0.75 0 1 0 1.50 0a0.75 0.75 0 1 0 -1.50 0M648.06 264.01a0.75 0.75 0 1 0 1.50 0a0.75 0.75 0 1 0 -1.50 0M650.69 266.65a0.75 0.75 0 1 0 1.50 0a0.75 0.75 0 1 0 -1.50 0M648.06 269.29a0.75 0.75 0 1 0 1.50 0a0.75 0.75 0 1 0 -1.50 0M650.69 271.92a0.75 0.75 0 1 0 1.50 0a0.75 0.75 0 1 0 -1.50 0M648.06 274.56a0.75 0.75 0 1 0 1.50 0a0.75 0.75 0 1 0 -1.50 0M655.97 224.44a0.75 0.75 0 1 0 1.50 0a0.75 0.75 0 1 0 -1.50 0M653.33 227.08a0.75 0.75 0 1 0 1.50 0a0.75 0.75 0 1 0 -1.50 0M655.97 229.72a0.75 0.75 0 1 0 1.50 0a0.75 0.75 0 1 0 -1.50 0M653.33 232.35a0.75 0.75 0 1 0 1.50 0a0.75 0.75 0 1 0 -1.50 0M655.97 234.99a0.75 0.75 0 1 0 1.50 0a0.75 0.75 0 1 0 -1.50 0M653.33 237.63a0.75 0.75 0 1 0 1.50 0a0.75 0.75 0 1 0 -1.50 0M655.97 240.27a0.75 0.75 0 1 0 1.50 0a0.75 0.75 0 1 0 -1.50 0M653.33 242.91a0.75 0.75 0 1 0 1.50 0a0.75 0.75 0 1 0 -1.50 0M655.97 245.54a0.75 0.75 0 1 0 1.50 0a0.75 0.75 0 1 0 -1.50 0M653.33 248.18a0.75 0.75 0 1 0 1.50 0a0.75 0.75 0 1 0 -1.50 0M655.97 250.82a0.75 0.75 0 1 0 1.50 0a0.75 0.75 0 1 0 -1.50 0M653.33 253.46a0.75 0.75 0 1 0 1.50 0a0.75 0.75 0 1 0 -1.50 0M655.97 256.10a0.75 0.75 0 1 0 1.50 0a0.75 0.75 0 1 0 -1.50 0M653.33 258.73a0.75 0.75 0 1 0 1.50 0a0.75 0.75 0 1 0 -1.50 0M655.97 261.37a0.75 0.75 0 1 0 1.50 0a0.75 0.75 0 1 0 -1.50 0M653.33 264.01a0.75 0.75 0 1 0 1.50 0a0.75 0.75 0 1 0 -1.50 0M655.97 266.65a0.75 0.75 0 1 0 1.50 0a0.75 0.75 0 1 0 -1.50 0M653.33 269.29a0.75 0.75 0 1 0 1.50 0a0.75 0.75 0 1 0 -1.50 0M655.97 271.92a0.75 0.75 0 1 0 1.50 0a0.75 0.75 0 1 0 -1.50 0M653.33 274.56a0.75 0.75 0 1 0 1.50 0a0.75 0.75 0 1 0 -1.50 0M661.25 224.44a0.75 0.75 0 1 0 1.50 0a0.75 0.75 0 1 0 -1.50 0M658.61 227.08a0.75 0.75 0 1 0 1.50 0a0.75 0.75 0 1 0 -1.50 0M661.25 229.72a0.75 0.75 0 1 0 1.50 0a0.75 0.75 0 1 0 -1.50 0M658.61 232.35a0.75 0.75 0 1 0 1.50 0a0.75 0.75 0 1 0 -1.50 0M661.25 234.99a0.75 0.75 0 1 0 1.50 0a0.75 0.75 0 1 0 -1.50 0M658.61 237.63a0.75 0.75 0 1 0 1.50 0a0.75 0.75 0 1 0 -1.50 0M661.25 240.27a0.75 0.75 0 1 0 1.50 0a0.75 0.75 0 1 0 -1.50 0M658.61 242.91a0.75 0.75 0 1 0 1.50 0a0.75 0.75 0 1 0 -1.50 0M661.25 245.54a0.75 0.75 0 1 0 1.50 0a0.75 0.75 0 1 0 -1.50 0M658.61 248.18a0.75 0.75 0 1 0 1.50 0a0.75 0.75 0 1 0 -1.50 0M661.25 250.82a0.75 0.75 0 1 0 1.50 0a0.75 0.75 0 1 0 -1.50 0M658.61 253.46a0.75 0.75 0 1 0 1.50 0a0.75 0.75 0 1 0 -1.50 0M661.25 256.10a0.75 0.75 0 1 0 1.50 0a0.75 0.75 0 1 0 -1.50 0M658.61 258.73a0.75 0.75 0 1 0 1.50 0a0.75 0.75 0 1 0 -1.50 0M661.25 261.37a0.75 0.75 0 1 0 1.50 0a0.75 0.75 0 1 0 -1.50 0M658.61 264.01a0.75 0.75 0 1 0 1.50 0a0.75 0.75 0 1 0 -1.50 0M661.25 266.65a0.75 0.75 0 1 0 1.50 0a0.75 0.75 0 1 0 -1.50 0M658.61 269.29a0.75 0.75 0 1 0 1.50 0a0.75 0.75 0 1 0 -1.50 0M661.25 271.92a0.75 0.75 0 1 0 1.50 0a0.75 0.75 0 1 0 -1.50 0M658.61 274.56a0.75 0.75 0 1 0 1.50 0a0.75 0.75 0 1 0 -1.50 0M666.52 224.44a0.75 0.75 0 1 0 1.50 0a0.75 0.75 0 1 0 -1.50 0M663.88 227.08a0.75 0.75 0 1 0 1.50 0a0.75 0.75 0 1 0 -1.50 0M666.52 229.72a0.75 0.75 0 1 0 1.50 0a0.75 0.75 0 1 0 -1.50 0M663.88 232.35a0.75 0.75 0 1 0 1.50 0a0.75 0.75 0 1 0 -1.50 0M666.52 234.99a0.75 0.75 0 1 0 1.50 0a0.75 0.75 0 1 0 -1.50 0M663.88 237.63a0.75 0.75 0 1 0 1.50 0a0.75 0.75 0 1 0 -1.50 0M666.52 240.27a0.75 0.75 0 1 0 1.50 0a0.75 0.75 0 1 0 -1.50 0M663.88 242.91a0.75 0.75 0 1 0 1.50 0a0.75 0.75 0 1 0 -1.50 0M666.52 245.54a0.75 0.75 0 1 0 1.50 0a0.75 0.75 0 1 0 -1.50 0M663.88 248.18a0.75 0.75 0 1 0 1.50 0a0.75 0.75 0 1 0 -1.50 0M666.52 250.82a0.75 0.75 0 1 0 1.50 0a0.75 0.75 0 1 0 -1.50 0M663.88 253.46a0.75 0.75 0 1 0 1.50 0a0.75 0.75 0 1 0 -1.50 0M666.52 256.10a0.75 0.75 0 1 0 1.50 0a0.75 0.75 0 1 0 -1.50 0M663.88 258.73a0.75 0.75 0 1 0 1.50 0a0.75 0.75 0 1 0 -1.50 0M666.52 261.37a0.75 0.75 0 1 0 1.50 0a0.75 0.75 0 1 0 -1.50 0M663.88 264.01a0.75 0.75 0 1 0 1.50 0a0.75 0.75 0 1 0 -1.50 0M666.52 266.65a0.75 0.75 0 1 0 1.50 0a0.75 0.75 0 1 0 -1.50 0M663.88 269.29a0.75 0.75 0 1 0 1.50 0a0.75 0.75 0 1 0 -1.50 0M666.52 271.92a0.75 0.75 0 1 0 1.50 0a0.75 0.75 0 1 0 -1.50 0M663.88 274.56a0.75 0.75 0 1 0 1.50 0a0.75 0.75 0 1 0 -1.50 0M671.80 224.44a0.75 0.75 0 1 0 1.50 0a0.75 0.75 0 1 0 -1.50 0M669.16 227.08a0.75 0.75 0 1 0 1.50 0a0.75 0.75 0 1 0 -1.50 0M671.80 229.72a0.75 0.75 0 1 0 1.50 0a0.75 0.75 0 1 0 -1.50 0M669.16 232.35a0.75 0.75 0 1 0 1.50 0a0.75 0.75 0 1 0 -1.50 0M671.80 234.99a0.75 0.75 0 1 0 1.50 0a0.75 0.75 0 1 0 -1.50 0M669.16 237.63a0.75 0.75 0 1 0 1.50 0a0.75 0.75 0 1 0 -1.50 0M671.80 240.27a0.75 0.75 0 1 0 1.50 0a0.75 0.75 0 1 0 -1.50 0M669.16 242.91a0.75 0.75 0 1 0 1.50 0a0.75 0.75 0 1 0 -1.50 0M671.80 245.54a0.75 0.75 0 1 0 1.50 0a0.75 0.75 0 1 0 -1.50 0M669.16 248.18a0.75 0.75 0 1 0 1.50 0a0.75 0.75 0 1 0 -1.50 0M671.80 250.82a0.75 0.75 0 1 0 1.50 0a0.75 0.75 0 1 0 -1.50 0M669.16 253.46a0.75 0.75 0 1 0 1.50 0a0.75 0.75 0 1 0 -1.50 0M671.80 256.10a0.75 0.75 0 1 0 1.50 0a0.75 0.75 0 1 0 -1.50 0M669.16 258.73a0.75 0.75 0 1 0 1.50 0a0.75 0.75 0 1 0 -1.50 0M671.80 261.37a0.75 0.75 0 1 0 1.50 0a0.75 0.75 0 1 0 -1.50 0M669.16 264.01a0.75 0.75 0 1 0 1.50 0a0.75 0.75 0 1 0 -1.50 0M671.80 266.65a0.75 0.75 0 1 0 1.50 0a0.75 0.75 0 1 0 -1.50 0M669.16 269.29a0.75 0.75 0 1 0 1.50 0a0.75 0.75 0 1 0 -1.50 0M671.80 271.92a0.75 0.75 0 1 0 1.50 0a0.75 0.75 0 1 0 -1.50 0M669.16 274.56a0.75 0.75 0 1 0 1.50 0a0.75 0.75 0 1 0 -1.50 0M677.07 224.44a0.75 0.75 0 1 0 1.50 0a0.75 0.75 0 1 0 -1.50 0M674.44 227.08a0.75 0.75 0 1 0 1.50 0a0.75 0.75 0 1 0 -1.50 0M677.07 229.72a0.75 0.75 0 1 0 1.50 0a0.75 0.75 0 1 0 -1.50 0M674.44 232.35a0.75 0.75 0 1 0 1.50 0a0.75 0.75 0 1 0 -1.50 0M677.07 234.99a0.75 0.75 0 1 0 1.50 0a0.75 0.75 0 1 0 -1.50 0M674.44 237.63a0.75 0.75 0 1 0 1.50 0a0.75 0.75 0 1 0 -1.50 0M677.07 240.27a0.75 0.75 0 1 0 1.50 0a0.75 0.75 0 1 0 -1.50 0M674.44 242.91a0.75 0.75 0 1 0 1.50 0a0.75 0.75 0 1 0 -1.50 0M677.07 245.54a0.75 0.75 0 1 0 1.50 0a0.75 0.75 0 1 0 -1.50 0M674.44 248.18a0.75 0.75 0 1 0 1.50 0a0.75 0.75 0 1 0 -1.50 0M677.07 250.82a0.75 0.75 0 1 0 1.50 0a0.75 0.75 0 1 0 -1.50 0M674.44 253.46a0.75 0.75 0 1 0 1.50 0a0.75 0.75 0 1 0 -1.50 0M677.07 256.10a0.75 0.75 0 1 0 1.50 0a0.75 0.75 0 1 0 -1.50 0M674.44 258.73a0.75 0.75 0 1 0 1.50 0a0.75 0.75 0 1 0 -1.50 0M677.07 261.37a0.75 0.75 0 1 0 1.50 0a0.75 0.75 0 1 0 -1.50 0M674.44 264.01a0.75 0.75 0 1 0 1.50 0a0.75 0.75 0 1 0 -1.50 0M677.07 266.65a0.75 0.75 0 1 0 1.50 0a0.75 0.75 0 1 0 -1.50 0M674.44 269.29a0.75 0.75 0 1 0 1.50 0a0.75 0.75 0 1 0 -1.50 0M677.07 271.92a0.75 0.75 0 1 0 1.50 0a0.75 0.75 0 1 0 -1.50 0M674.44 274.56a0.75 0.75 0 1 0 1.50 0a0.75 0.75 0 1 0 -1.50 0M682.35 224.44a0.75 0.75 0 1 0 1.50 0a0.75 0.75 0 1 0 -1.50 0M679.71 227.08a0.75 0.75 0 1 0 1.50 0a0.75 0.75 0 1 0 -1.50 0M682.35 229.72a0.75 0.75 0 1 0 1.50 0a0.75 0.75 0 1 0 -1.50 0M679.71 232.35a0.75 0.75 0 1 0 1.50 0a0.75 0.75 0 1 0 -1.50 0M682.35 234.99a0.75 0.75 0 1 0 1.50 0a0.75 0.75 0 1 0 -1.50 0M679.71 237.63a0.75 0.75 0 1 0 1.50 0a0.75 0.75 0 1 0 -1.50 0M682.35 240.27a0.75 0.75 0 1 0 1.50 0a0.75 0.75 0 1 0 -1.50 0M679.71 242.91a0.75 0.75 0 1 0 1.50 0a0.75 0.75 0 1 0 -1.50 0M682.35 245.54a0.75 0.75 0 1 0 1.50 0a0.75 0.75 0 1 0 -1.50 0M679.71 248.18a0.75 0.75 0 1 0 1.50 0a0.75 0.75 0 1 0 -1.50 0M682.35 250.82a0.75 0.75 0 1 0 1.50 0a0.75 0.75 0 1 0 -1.50 0M679.71 253.46a0.75 0.75 0 1 0 1.50 0a0.75 0.75 0 1 0 -1.50 0M682.35 256.10a0.75 0.75 0 1 0 1.50 0a0.75 0.75 0 1 0 -1.50 0M679.71 258.73a0.75 0.75 0 1 0 1.50 0a0.75 0.75 0 1 0 -1.50 0M682.35 261.37a0.75 0.75 0 1 0 1.50 0a0.75 0.75 0 1 0 -1.50 0M679.71 264.01a0.75 0.75 0 1 0 1.50 0a0.75 0.75 0 1 0 -1.50 0M682.35 266.65a0.75 0.75 0 1 0 1.50 0a0.75 0.75 0 1 0 -1.50 0M679.71 269.29a0.75 0.75 0 1 0 1.50 0a0.75 0.75 0 1 0 -1.50 0M682.35 271.92a0.75 0.75 0 1 0 1.50 0a0.75 0.75 0 1 0 -1.50 0M679.71 274.56a0.75 0.75 0 1 0 1.50 0a0.75 0.75 0 1 0 -1.50 0M687.63 224.44a0.75 0.75 0 1 0 1.50 0a0.75 0.75 0 1 0 -1.50 0M684.99 227.08a0.75 0.75 0 1 0 1.50 0a0.75 0.75 0 1 0 -1.50 0M687.63 229.72a0.75 0.75 0 1 0 1.50 0a0.75 0.75 0 1 0 -1.50 0M684.99 232.35a0.75 0.75 0 1 0 1.50 0a0.75 0.75 0 1 0 -1.50 0M687.63 234.99a0.75 0.75 0 1 0 1.50 0a0.75 0.75 0 1 0 -1.50 0M684.99 237.63a0.75 0.75 0 1 0 1.50 0a0.75 0.75 0 1 0 -1.50 0M687.63 240.27a0.75 0.75 0 1 0 1.50 0a0.75 0.75 0 1 0 -1.50 0M684.99 242.91a0.75 0.75 0 1 0 1.50 0a0.75 0.75 0 1 0 -1.50 0M687.63 245.54a0.75 0.75 0 1 0 1.50 0a0.75 0.75 0 1 0 -1.50 0M684.99 248.18a0.75 0.75 0 1 0 1.50 0a0.75 0.75 0 1 0 -1.50 0M687.63 250.82a0.75 0.75 0 1 0 1.50 0a0.75 0.75 0 1 0 -1.50 0M684.99 253.46a0.75 0.75 0 1 0 1.50 0a0.75 0.75 0 1 0 -1.50 0M687.63 256.10a0.75 0.75 0 1 0 1.50 0a0.75 0.75 0 1 0 -1.50 0M684.99 258.73a0.75 0.75 0 1 0 1.50 0a0.75 0.75 0 1 0 -1.50 0M687.63 261.37a0.75 0.75 0 1 0 1.50 0a0.75 0.75 0 1 0 -1.50 0M684.99 264.01a0.75 0.75 0 1 0 1.50 0a0.75 0.75 0 1 0 -1.50 0M687.63 266.65a0.75 0.75 0 1 0 1.50 0a0.75 0.75 0 1 0 -1.50 0M684.99 269.29a0.75 0.75 0 1 0 1.50 0a0.75 0.75 0 1 0 -1.50 0M687.63 271.92a0.75 0.75 0 1 0 1.50 0a0.75 0.75 0 1 0 -1.50 0M684.99 274.56a0.75 0.75 0 1 0 1.50 0a0.75 0.75 0 1 0 -1.50 0M692.90 224.44a0.75 0.75 0 1 0 1.50 0a0.75 0.75 0 1 0 -1.50 0M690.26 227.08a0.75 0.75 0 1 0 1.50 0a0.75 0.75 0 1 0 -1.50 0M692.90 229.72a0.75 0.75 0 1 0 1.50 0a0.75 0.75 0 1 0 -1.50 0M690.26 232.35a0.75 0.75 0 1 0 1.50 0a0.75 0.75 0 1 0 -1.50 0M692.90 234.99a0.75 0.75 0 1 0 1.50 0a0.75 0.75 0 1 0 -1.50 0M690.26 237.63a0.75 0.75 0 1 0 1.50 0a0.75 0.75 0 1 0 -1.50 0M692.90 240.27a0.75 0.75 0 1 0 1.50 0a0.75 0.75 0 1 0 -1.50 0M690.26 242.91a0.75 0.75 0 1 0 1.50 0a0.75 0.75 0 1 0 -1.50 0M692.90 245.54a0.75 0.75 0 1 0 1.50 0a0.75 0.75 0 1 0 -1.50 0M690.26 248.18a0.75 0.75 0 1 0 1.50 0a0.75 0.75 0 1 0 -1.50 0M692.90 250.82a0.75 0.75 0 1 0 1.50 0a0.75 0.75 0 1 0 -1.50 0M690.26 253.46a0.75 0.75 0 1 0 1.50 0a0.75 0.75 0 1 0 -1.50 0M692.90 256.10a0.75 0.75 0 1 0 1.50 0a0.75 0.75 0 1 0 -1.50 0M690.26 258.73a0.75 0.75 0 1 0 1.50 0a0.75 0.75 0 1 0 -1.50 0M692.90 261.37a0.75 0.75 0 1 0 1.50 0a0.75 0.75 0 1 0 -1.50 0M690.26 264.01a0.75 0.75 0 1 0 1.50 0a0.75 0.75 0 1 0 -1.50 0M692.90 266.65a0.75 0.75 0 1 0 1.50 0a0.75 0.75 0 1 0 -1.50 0M690.26 269.29a0.75 0.75 0 1 0 1.50 0a0.75 0.75 0 1 0 -1.50 0M692.90 271.92a0.75 0.75 0 1 0 1.50 0a0.75 0.75 0 1 0 -1.50 0M690.26 274.56a0.75 0.75 0 1 0 1.50 0a0.75 0.75 0 1 0 -1.50 0M698.18 224.44a0.75 0.75 0 1 0 1.50 0a0.75 0.75 0 1 0 -1.50 0M695.54 227.08a0.75 0.75 0 1 0 1.50 0a0.75 0.75 0 1 0 -1.50 0M698.18 229.72a0.75 0.75 0 1 0 1.50 0a0.75 0.75 0 1 0 -1.50 0M695.54 232.35a0.75 0.75 0 1 0 1.50 0a0.75 0.75 0 1 0 -1.50 0M698.18 234.99a0.75 0.75 0 1 0 1.50 0a0.75 0.75 0 1 0 -1.50 0M695.54 237.63a0.75 0.75 0 1 0 1.50 0a0.75 0.75 0 1 0 -1.50 0M698.18 240.27a0.75 0.75 0 1 0 1.50 0a0.75 0.75 0 1 0 -1.50 0M695.54 242.91a0.75 0.75 0 1 0 1.50 0a0.75 0.75 0 1 0 -1.50 0M698.18 245.54a0.75 0.75 0 1 0 1.50 0a0.75 0.75 0 1 0 -1.50 0M695.54 248.18a0.75 0.75 0 1 0 1.50 0a0.75 0.75 0 1 0 -1.50 0M698.18 250.82a0.75 0.75 0 1 0 1.50 0a0.75 0.75 0 1 0 -1.50 0M695.54 253.46a0.75 0.75 0 1 0 1.50 0a0.75 0.75 0 1 0 -1.50 0M698.18 256.10a0.75 0.75 0 1 0 1.50 0a0.75 0.75 0 1 0 -1.50 0M695.54 258.73a0.75 0.75 0 1 0 1.50 0a0.75 0.75 0 1 0 -1.50 0M698.18 261.37a0.75 0.75 0 1 0 1.50 0a0.75 0.75 0 1 0 -1.50 0M695.54 264.01a0.75 0.75 0 1 0 1.50 0a0.75 0.75 0 1 0 -1.50 0M698.18 266.65a0.75 0.75 0 1 0 1.50 0a0.75 0.75 0 1 0 -1.50 0M695.54 269.29a0.75 0.75 0 1 0 1.50 0a0.75 0.75 0 1 0 -1.50 0M698.18 271.92a0.75 0.75 0 1 0 1.50 0a0.75 0.75 0 1 0 -1.50 0M695.54 274.56a0.75 0.75 0 1 0 1.50 0a0.75 0.75 0 1 0 -1.50 0M703.45 224.44a0.75 0.75 0 1 0 1.50 0a0.75 0.75 0 1 0 -1.50 0M700.82 227.08a0.75 0.75 0 1 0 1.50 0a0.75 0.75 0 1 0 -1.50 0M703.45 229.72a0.75 0.75 0 1 0 1.50 0a0.75 0.75 0 1 0 -1.50 0M700.82 232.35a0.75 0.75 0 1 0 1.50 0a0.75 0.75 0 1 0 -1.50 0M703.45 234.99a0.75 0.75 0 1 0 1.50 0a0.75 0.75 0 1 0 -1.50 0M700.82 237.63a0.75 0.75 0 1 0 1.50 0a0.75 0.75 0 1 0 -1.50 0M703.45 240.27a0.75 0.75 0 1 0 1.50 0a0.75 0.75 0 1 0 -1.50 0M700.82 242.91a0.75 0.75 0 1 0 1.50 0a0.75 0.75 0 1 0 -1.50 0M703.45 245.54a0.75 0.75 0 1 0 1.50 0a0.75 0.75 0 1 0 -1.50 0M700.82 248.18a0.75 0.75 0 1 0 1.50 0a0.75 0.75 0 1 0 -1.50 0M703.45 250.82a0.75 0.75 0 1 0 1.50 0a0.75 0.75 0 1 0 -1.50 0M700.82 253.46a0.75 0.75 0 1 0 1.50 0a0.75 0.75 0 1 0 -1.50 0M703.45 256.10a0.75 0.75 0 1 0 1.50 0a0.75 0.75 0 1 0 -1.50 0M700.82 258.73a0.75 0.75 0 1 0 1.50 0a0.75 0.75 0 1 0 -1.50 0M703.45 261.37a0.75 0.75 0 1 0 1.50 0a0.75 0.75 0 1 0 -1.50 0M700.82 264.01a0.75 0.75 0 1 0 1.50 0a0.75 0.75 0 1 0 -1.50 0M703.45 266.65a0.75 0.75 0 1 0 1.50 0a0.75 0.75 0 1 0 -1.50 0M700.82 269.29a0.75 0.75 0 1 0 1.50 0a0.75 0.75 0 1 0 -1.50 0M703.45 271.92a0.75 0.75 0 1 0 1.50 0a0.75 0.75 0 1 0 -1.50 0M700.82 274.56a0.75 0.75 0 1 0 1.50 0a0.75 0.75 0 1 0 -1.50 0M708.73 224.44a0.75 0.75 0 1 0 1.50 0a0.75 0.75 0 1 0 -1.50 0M706.09 227.08a0.75 0.75 0 1 0 1.50 0a0.75 0.75 0 1 0 -1.50 0M708.73 229.72a0.75 0.75 0 1 0 1.50 0a0.75 0.75 0 1 0 -1.50 0M706.09 232.35a0.75 0.75 0 1 0 1.50 0a0.75 0.75 0 1 0 -1.50 0M708.73 234.99a0.75 0.75 0 1 0 1.50 0a0.75 0.75 0 1 0 -1.50 0M706.09 237.63a0.75 0.75 0 1 0 1.50 0a0.75 0.75 0 1 0 -1.50 0M708.73 240.27a0.75 0.75 0 1 0 1.50 0a0.75 0.75 0 1 0 -1.50 0M706.09 242.91a0.75 0.75 0 1 0 1.50 0a0.75 0.75 0 1 0 -1.50 0M708.73 245.54a0.75 0.75 0 1 0 1.50 0a0.75 0.75 0 1 0 -1.50 0M706.09 248.18a0.75 0.75 0 1 0 1.50 0a0.75 0.75 0 1 0 -1.50 0M708.73 250.82a0.75 0.75 0 1 0 1.50 0a0.75 0.75 0 1 0 -1.50 0M706.09 253.46a0.75 0.75 0 1 0 1.50 0a0.75 0.75 0 1 0 -1.50 0M708.73 256.10a0.75 0.75 0 1 0 1.50 0a0.75 0.75 0 1 0 -1.50 0M706.09 258.73a0.75 0.75 0 1 0 1.50 0a0.75 0.75 0 1 0 -1.50 0M708.73 261.37a0.75 0.75 0 1 0 1.50 0a0.75 0.75 0 1 0 -1.50 0M706.09 264.01a0.75 0.75 0 1 0 1.50 0a0.75 0.75 0 1 0 -1.50 0M708.73 266.65a0.75 0.75 0 1 0 1.50 0a0.75 0.75 0 1 0 -1.50 0M706.09 269.29a0.75 0.75 0 1 0 1.50 0a0.75 0.75 0 1 0 -1.50 0M708.73 271.92a0.75 0.75 0 1 0 1.50 0a0.75 0.75 0 1 0 -1.50 0M706.09 274.56a0.75 0.75 0 1 0 1.50 0a0.75 0.75 0 1 0 -1.50 0M714.01 224.44a0.75 0.75 0 1 0 1.50 0a0.75 0.75 0 1 0 -1.50 0M711.37 227.08a0.75 0.75 0 1 0 1.50 0a0.75 0.75 0 1 0 -1.50 0M714.01 229.72a0.75 0.75 0 1 0 1.50 0a0.75 0.75 0 1 0 -1.50 0M711.37 232.35a0.75 0.75 0 1 0 1.50 0a0.75 0.75 0 1 0 -1.50 0M714.01 234.99a0.75 0.75 0 1 0 1.50 0a0.75 0.75 0 1 0 -1.50 0M711.37 237.63a0.75 0.75 0 1 0 1.50 0a0.75 0.75 0 1 0 -1.50 0M714.01 240.27a0.75 0.75 0 1 0 1.50 0a0.75 0.75 0 1 0 -1.50 0M711.37 242.91a0.75 0.75 0 1 0 1.50 0a0.75 0.75 0 1 0 -1.50 0M714.01 245.54a0.75 0.75 0 1 0 1.50 0a0.75 0.75 0 1 0 -1.50 0M711.37 248.18a0.75 0.75 0 1 0 1.50 0a0.75 0.75 0 1 0 -1.50 0M714.01 250.82a0.75 0.75 0 1 0 1.50 0a0.75 0.75 0 1 0 -1.50 0M711.37 253.46a0.75 0.75 0 1 0 1.50 0a0.75 0.75 0 1 0 -1.50 0M714.01 256.10a0.75 0.75 0 1 0 1.50 0a0.75 0.75 0 1 0 -1.50 0M711.37 258.73a0.75 0.75 0 1 0 1.50 0a0.75 0.75 0 1 0 -1.50 0M714.01 261.37a0.75 0.75 0 1 0 1.50 0a0.75 0.75 0 1 0 -1.50 0M711.37 264.01a0.75 0.75 0 1 0 1.50 0a0.75 0.75 0 1 0 -1.50 0M714.01 266.65a0.75 0.75 0 1 0 1.50 0a0.75 0.75 0 1 0 -1.50 0M711.37 269.29a0.75 0.75 0 1 0 1.50 0a0.75 0.75 0 1 0 -1.50 0M714.01 271.92a0.75 0.75 0 1 0 1.50 0a0.75 0.75 0 1 0 -1.50 0M711.37 274.56a0.75 0.75 0 1 0 1.50 0a0.75 0.75 0 1 0 -1.50 0M719.28 224.44a0.75 0.75 0 1 0 1.50 0a0.75 0.75 0 1 0 -1.50 0M716.64 227.08a0.75 0.75 0 1 0 1.50 0a0.75 0.75 0 1 0 -1.50 0M719.28 229.72a0.75 0.75 0 1 0 1.50 0a0.75 0.75 0 1 0 -1.50 0M716.64 232.35a0.75 0.75 0 1 0 1.50 0a0.75 0.75 0 1 0 -1.50 0M719.28 234.99a0.75 0.75 0 1 0 1.50 0a0.75 0.75 0 1 0 -1.50 0M716.64 237.63a0.75 0.75 0 1 0 1.50 0a0.75 0.75 0 1 0 -1.50 0M719.28 240.27a0.75 0.75 0 1 0 1.50 0a0.75 0.75 0 1 0 -1.50 0M716.64 242.91a0.75 0.75 0 1 0 1.50 0a0.75 0.75 0 1 0 -1.50 0M719.28 245.54a0.75 0.75 0 1 0 1.50 0a0.75 0.75 0 1 0 -1.50 0M716.64 248.18a0.75 0.75 0 1 0 1.50 0a0.75 0.75 0 1 0 -1.50 0M719.28 250.82a0.75 0.75 0 1 0 1.50 0a0.75 0.75 0 1 0 -1.50 0M716.64 253.46a0.75 0.75 0 1 0 1.50 0a0.75 0.75 0 1 0 -1.50 0M719.28 256.10a0.75 0.75 0 1 0 1.50 0a0.75 0.75 0 1 0 -1.50 0M716.64 258.73a0.75 0.75 0 1 0 1.50 0a0.75 0.75 0 1 0 -1.50 0M719.28 261.37a0.75 0.75 0 1 0 1.50 0a0.75 0.75 0 1 0 -1.50 0M716.64 264.01a0.75 0.75 0 1 0 1.50 0a0.75 0.75 0 1 0 -1.50 0M719.28 266.65a0.75 0.75 0 1 0 1.50 0a0.75 0.75 0 1 0 -1.50 0M716.64 269.29a0.75 0.75 0 1 0 1.50 0a0.75 0.75 0 1 0 -1.50 0M719.28 271.92a0.75 0.75 0 1 0 1.50 0a0.75 0.75 0 1 0 -1.50 0M716.64 274.56a0.75 0.75 0 1 0 1.50 0a0.75 0.75 0 1 0 -1.50 0M724.56 224.44a0.75 0.75 0 1 0 1.50 0a0.75 0.75 0 1 0 -1.50 0M721.92 227.08a0.75 0.75 0 1 0 1.50 0a0.75 0.75 0 1 0 -1.50 0M724.56 229.72a0.75 0.75 0 1 0 1.50 0a0.75 0.75 0 1 0 -1.50 0M721.92 232.35a0.75 0.75 0 1 0 1.50 0a0.75 0.75 0 1 0 -1.50 0M724.56 234.99a0.75 0.75 0 1 0 1.50 0a0.75 0.75 0 1 0 -1.50 0M721.92 237.63a0.75 0.75 0 1 0 1.50 0a0.75 0.75 0 1 0 -1.50 0M724.56 240.27a0.75 0.75 0 1 0 1.50 0a0.75 0.75 0 1 0 -1.50 0M721.92 242.91a0.75 0.75 0 1 0 1.50 0a0.75 0.75 0 1 0 -1.50 0M724.56 245.54a0.75 0.75 0 1 0 1.50 0a0.75 0.75 0 1 0 -1.50 0M721.92 248.18a0.75 0.75 0 1 0 1.50 0a0.75 0.75 0 1 0 -1.50 0M724.56 250.82a0.75 0.75 0 1 0 1.50 0a0.75 0.75 0 1 0 -1.50 0M721.92 253.46a0.75 0.75 0 1 0 1.50 0a0.75 0.75 0 1 0 -1.50 0M724.56 256.10a0.75 0.75 0 1 0 1.50 0a0.75 0.75 0 1 0 -1.50 0M721.92 258.73a0.75 0.75 0 1 0 1.50 0a0.75 0.75 0 1 0 -1.50 0M724.56 261.37a0.75 0.75 0 1 0 1.50 0a0.75 0.75 0 1 0 -1.50 0M721.92 264.01a0.75 0.75 0 1 0 1.50 0a0.75 0.75 0 1 0 -1.50 0M724.56 266.65a0.75 0.75 0 1 0 1.50 0a0.75 0.75 0 1 0 -1.50 0M721.92 269.29a0.75 0.75 0 1 0 1.50 0a0.75 0.75 0 1 0 -1.50 0M724.56 271.92a0.75 0.75 0 1 0 1.50 0a0.75 0.75 0 1 0 -1.50 0M721.92 274.56a0.75 0.75 0 1 0 1.50 0a0.75 0.75 0 1 0 -1.50 0M729.83 224.44a0.75 0.75 0 1 0 1.50 0a0.75 0.75 0 1 0 -1.50 0M727.20 227.08a0.75 0.75 0 1 0 1.50 0a0.75 0.75 0 1 0 -1.50 0M729.83 229.72a0.75 0.75 0 1 0 1.50 0a0.75 0.75 0 1 0 -1.50 0M727.20 232.35a0.75 0.75 0 1 0 1.50 0a0.75 0.75 0 1 0 -1.50 0M729.83 234.99a0.75 0.75 0 1 0 1.50 0a0.75 0.75 0 1 0 -1.50 0M727.20 237.63a0.75 0.75 0 1 0 1.50 0a0.75 0.75 0 1 0 -1.50 0M729.83 240.27a0.75 0.75 0 1 0 1.50 0a0.75 0.75 0 1 0 -1.50 0M727.20 242.91a0.75 0.75 0 1 0 1.50 0a0.75 0.75 0 1 0 -1.50 0M729.83 245.54a0.75 0.75 0 1 0 1.50 0a0.75 0.75 0 1 0 -1.50 0M727.20 248.18a0.75 0.75 0 1 0 1.50 0a0.75 0.75 0 1 0 -1.50 0M729.83 250.82a0.75 0.75 0 1 0 1.50 0a0.75 0.75 0 1 0 -1.50 0M727.20 253.46a0.75 0.75 0 1 0 1.50 0a0.75 0.75 0 1 0 -1.50 0M729.83 256.10a0.75 0.75 0 1 0 1.50 0a0.75 0.75 0 1 0 -1.50 0M727.20 258.73a0.75 0.75 0 1 0 1.50 0a0.75 0.75 0 1 0 -1.50 0M729.83 261.37a0.75 0.75 0 1 0 1.50 0a0.75 0.75 0 1 0 -1.50 0M727.20 264.01a0.75 0.75 0 1 0 1.50 0a0.75 0.75 0 1 0 -1.50 0M729.83 266.65a0.75 0.75 0 1 0 1.50 0a0.75 0.75 0 1 0 -1.50 0M727.20 269.29a0.75 0.75 0 1 0 1.50 0a0.75 0.75 0 1 0 -1.50 0M729.83 271.92a0.75 0.75 0 1 0 1.50 0a0.75 0.75 0 1 0 -1.50 0M727.20 274.56a0.75 0.75 0 1 0 1.50 0a0.75 0.75 0 1 0 -1.50 0M735.11 224.44a0.75 0.75 0 1 0 1.50 0a0.75 0.75 0 1 0 -1.50 0M732.47 227.08a0.75 0.75 0 1 0 1.50 0a0.75 0.75 0 1 0 -1.50 0M735.11 229.72a0.75 0.75 0 1 0 1.50 0a0.75 0.75 0 1 0 -1.50 0M732.47 232.35a0.75 0.75 0 1 0 1.50 0a0.75 0.75 0 1 0 -1.50 0M735.11 234.99a0.75 0.75 0 1 0 1.50 0a0.75 0.75 0 1 0 -1.50 0M732.47 237.63a0.75 0.75 0 1 0 1.50 0a0.75 0.75 0 1 0 -1.50 0M735.11 240.27a0.75 0.75 0 1 0 1.50 0a0.75 0.75 0 1 0 -1.50 0M732.47 242.91a0.75 0.75 0 1 0 1.50 0a0.75 0.75 0 1 0 -1.50 0M735.11 245.54a0.75 0.75 0 1 0 1.50 0a0.75 0.75 0 1 0 -1.50 0M732.47 248.18a0.75 0.75 0 1 0 1.50 0a0.75 0.75 0 1 0 -1.50 0M735.11 250.82a0.75 0.75 0 1 0 1.50 0a0.75 0.75 0 1 0 -1.50 0M732.47 253.46a0.75 0.75 0 1 0 1.50 0a0.75 0.75 0 1 0 -1.50 0M735.11 256.10a0.75 0.75 0 1 0 1.50 0a0.75 0.75 0 1 0 -1.50 0M732.47 258.73a0.75 0.75 0 1 0 1.50 0a0.75 0.75 0 1 0 -1.50 0M735.11 261.37a0.75 0.75 0 1 0 1.50 0a0.75 0.75 0 1 0 -1.50 0M732.47 264.01a0.75 0.75 0 1 0 1.50 0a0.75 0.75 0 1 0 -1.50 0M735.11 266.65a0.75 0.75 0 1 0 1.50 0a0.75 0.75 0 1 0 -1.50 0M732.47 269.29a0.75 0.75 0 1 0 1.50 0a0.75 0.75 0 1 0 -1.50 0M735.11 271.92a0.75 0.75 0 1 0 1.50 0a0.75 0.75 0 1 0 -1.50 0M732.47 274.56a0.75 0.75 0 1 0 1.50 0a0.75 0.75 0 1 0 -1.50 0M740.39 224.44a0.75 0.75 0 1 0 1.50 0a0.75 0.75 0 1 0 -1.50 0M737.75 227.08a0.75 0.75 0 1 0 1.50 0a0.75 0.75 0 1 0 -1.50 0M740.39 229.72a0.75 0.75 0 1 0 1.50 0a0.75 0.75 0 1 0 -1.50 0M737.75 232.35a0.75 0.75 0 1 0 1.50 0a0.75 0.75 0 1 0 -1.50 0M740.39 234.99a0.75 0.75 0 1 0 1.50 0a0.75 0.75 0 1 0 -1.50 0M737.75 237.63a0.75 0.75 0 1 0 1.50 0a0.75 0.75 0 1 0 -1.50 0M740.39 240.27a0.75 0.75 0 1 0 1.50 0a0.75 0.75 0 1 0 -1.50 0M737.75 242.91a0.75 0.75 0 1 0 1.50 0a0.75 0.75 0 1 0 -1.50 0M740.39 245.54a0.75 0.75 0 1 0 1.50 0a0.75 0.75 0 1 0 -1.50 0M737.75 248.18a0.75 0.75 0 1 0 1.50 0a0.75 0.75 0 1 0 -1.50 0M740.39 250.82a0.75 0.75 0 1 0 1.50 0a0.75 0.75 0 1 0 -1.50 0M737.75 253.46a0.75 0.75 0 1 0 1.50 0a0.75 0.75 0 1 0 -1.50 0M740.39 256.10a0.75 0.75 0 1 0 1.50 0a0.75 0.75 0 1 0 -1.50 0M737.75 258.73a0.75 0.75 0 1 0 1.50 0a0.75 0.75 0 1 0 -1.50 0M740.39 261.37a0.75 0.75 0 1 0 1.50 0a0.75 0.75 0 1 0 -1.50 0M737.75 264.01a0.75 0.75 0 1 0 1.50 0a0.75 0.75 0 1 0 -1.50 0M740.39 266.65a0.75 0.75 0 1 0 1.50 0a0.75 0.75 0 1 0 -1.50 0M737.75 269.29a0.75 0.75 0 1 0 1.50 0a0.75 0.75 0 1 0 -1.50 0M740.39 271.92a0.75 0.75 0 1 0 1.50 0a0.75 0.75 0 1 0 -1.50 0M737.75 274.56a0.75 0.75 0 1 0 1.50 0a0.75 0.75 0 1 0 -1.50 0M743.02 227.08a0.75 0.75 0 1 0 1.50 0a0.75 0.75 0 1 0 -1.50 0M743.02 232.35a0.75 0.75 0 1 0 1.50 0a0.75 0.75 0 1 0 -1.50 0M743.02 237.63a0.75 0.75 0 1 0 1.50 0a0.75 0.75 0 1 0 -1.50 0M743.02 242.91a0.75 0.75 0 1 0 1.50 0a0.75 0.75 0 1 0 -1.50 0M743.02 248.18a0.75 0.75 0 1 0 1.50 0a0.75 0.75 0 1 0 -1.50 0M743.02 253.46a0.75 0.75 0 1 0 1.50 0a0.75 0.75 0 1 0 -1.50 0M743.02 258.73a0.75 0.75 0 1 0 1.50 0a0.75 0.75 0 1 0 -1.50 0M743.02 264.01a0.75 0.75 0 1 0 1.50 0a0.75 0.75 0 1 0 -1.50 0M743.02 269.29a0.75 0.75 0 1 0 1.50 0a0.75 0.75 0 1 0 -1.50 0M743.02 274.56a0.75 0.75 0 1 0 1.50 0a0.75 0.75 0 1 0 -1.50 0" fill="#000"/></g><rect x="558.3" y="224.8" width="185.2" height="49.1" rx="1.3" fill="none" stroke="#000" stroke-width="1.8"/>

<!-- ===== SIDE VIEW ===== -->
<g fill="none" stroke="#484848" stroke-width="1.1">
 <!-- 70 -->
 <line x1="379.6" y1="365" x2="413.2" y2="365"/>
 <line x1="380.5" y1="535.1" x2="436" y2="535.1"/>
 <line x1="385.5" y1="436.7" x2="385.5" y2="365.5" marker-end="url(#ar)"/>
 <line x1="385.5" y1="465.1" x2="385.5" y2="534.6" marker-end="url(#ar)"/>
 <!-- 8 -->
 <line x1="554.4" y1="364.2" x2="599.3" y2="364.2"/>
 <line x1="554.4" y1="383.4" x2="599.3" y2="383.4"/>
 <line x1="591.5" y1="344.9" x2="591.5" y2="363.7" marker-end="url(#ar)"/>
 <line x1="591.5" y1="403.1" x2="591.5" y2="383.9" marker-end="url(#ar)"/>
 <!-- 20 -->
 <line x1="765.7" y1="486.4" x2="810.2" y2="486.4"/>
 <line x1="764.7" y1="535.3" x2="809.6" y2="535.3"/>
 <line x1="801.5" y1="502.2" x2="801.5" y2="486.9" marker-end="url(#ar)"/>
 <line x1="801.5" y1="519.5" x2="801.5" y2="534.8" marker-end="url(#ar)"/>
</g>
<text class="d" x="379" y="456.2" textLength="13.4" lengthAdjust="spacingAndGlyphs">70</text>
<text class="d" x="588.2" y="378.7" textLength="6.4" lengthAdjust="spacingAndGlyphs">8</text>
<text class="d" x="795.1" y="514.9" textLength="12.9" lengthAdjust="spacingAndGlyphs">20</text>

<g fill="#fff" stroke="#000" stroke-width="1.7">
 <path d="M464.5 421V488.9A30.6 30.6 0 0 0 503.5 488.9V421"/>
 <rect x="419.3" y="364.1" width="129.1" height="19.6"/>
 <rect x="434.1" y="383.7" width="99.8" height="3.6"/>
 <rect x="445.5" y="387.3" width="76.9" height="5.2"/>
 <rect x="450.2" y="392.5" width="67.3" height="28"/>
 <line x1="450.2" y1="399.6" x2="517.5" y2="399.6" stroke-width="1.3"/>
 <line x1="450.2" y1="402.5" x2="517.5" y2="402.5" stroke-width="1.3"/>
 <rect x="441.6" y="492.5" width="10.4" height="36.4"/>
 <path d="M452 488.9H464.5A30.6 30.6 0 0 0 503.5 488.9H549.3V532.6H452Z"/>
 <line x1="734.4" y1="490" x2="739.5" y2="490"/>
 <line x1="734.4" y1="531.4" x2="739.5" y2="531.4"/>
 <rect x="739.5" y="486.4" width="7" height="48.9"/>
</g>
<clipPath id="c2"><rect x="549.5" y="486.4" width="184.9" height="48.9" rx="1.3"/></clipPath><rect x="549.5" y="486.4" width="184.9" height="48.9" rx="1.3" fill="#fff"/><g clip-path="url(#c2)"><path d="M546.50 542.81L737.40 733.71M546.50 537.53L737.40 728.43M546.50 532.25L737.40 723.15M546.50 526.97L737.40 717.87M546.50 521.69L737.40 712.59M546.50 516.41L737.40 707.31M546.50 511.13L737.40 702.03M546.50 505.85L737.40 696.75M546.50 500.57L737.40 691.47M546.50 495.29L737.40 686.19M546.50 490.01L737.40 680.91M546.50 484.73L737.40 675.63M546.50 479.45L737.40 670.35M546.50 474.17L737.40 665.07M546.50 468.89L737.40 659.79M546.50 463.61L737.40 654.51M546.50 458.33L737.40 649.23M546.50 453.05L737.40 643.95M546.50 447.77L737.40 638.67M546.50 442.49L737.40 633.39M546.50 437.21L737.40 628.11M546.50 431.93L737.40 622.83M546.50 426.65L737.40 617.55M546.50 421.37L737.40 612.27M546.50 416.09L737.40 606.99M546.50 410.81L737.40 601.71M546.50 405.53L737.40 596.43M546.50 400.25L737.40 591.15M546.50 394.97L737.40 585.87M546.50 389.69L737.40 580.59M546.50 384.41L737.40 575.31M546.50 379.13L737.40 570.03M546.50 373.85L737.40 564.75M546.50 368.57L737.40 559.47M546.50 363.29L737.40 554.19M546.50 358.01L737.40 548.91M546.50 352.73L737.40 543.63M546.50 347.45L737.40 538.35M546.50 342.17L737.40 533.07M546.50 336.89L737.40 527.79M546.50 331.61L737.40 522.51M546.50 326.33L737.40 517.23M546.50 321.05L737.40 511.95M546.50 315.77L737.40 506.67M546.50 310.49L737.40 501.39M546.50 305.21L737.40 496.11M546.50 299.93L737.40 490.83M546.50 294.65L737.40 485.55M546.50 289.37L737.40 480.27M546.50 481.19L737.40 290.29M546.50 486.47L737.40 295.57M546.50 491.75L737.40 300.85M546.50 497.03L737.40 306.13M546.50 502.31L737.40 311.41M546.50 507.59L737.40 316.69M546.50 512.87L737.40 321.97M546.50 518.15L737.40 327.25M546.50 523.43L737.40 332.53M546.50 528.71L737.40 337.81M546.50 533.99L737.40 343.09M546.50 539.27L737.40 348.37M546.50 544.55L737.40 353.65M546.50 549.83L737.40 358.93M546.50 555.11L737.40 364.21M546.50 560.39L737.40 369.49M546.50 565.67L737.40 374.77M546.50 570.95L737.40 380.05M546.50 576.23L737.40 385.33M546.50 581.51L737.40 390.61M546.50 586.79L737.40 395.89M546.50 592.07L737.40 401.17M546.50 597.35L737.40 406.45M546.50 602.63L737.40 411.73M546.50 607.91L737.40 417.01M546.50 613.19L737.40 422.29M546.50 618.47L737.40 427.57M546.50 623.75L737.40 432.85M546.50 629.03L737.40 438.13M546.50 634.31L737.40 443.41M546.50 639.59L737.40 448.69M546.50 644.87L737.40 453.97M546.50 650.15L737.40 459.25M546.50 655.43L737.40 464.53M546.50 660.71L737.40 469.81M546.50 665.99L737.40 475.09M546.50 671.27L737.40 480.37M546.50 676.55L737.40 485.65M546.50 681.83L737.40 490.93M546.50 687.11L737.40 496.21M546.50 692.39L737.40 501.49M546.50 697.67L737.40 506.77M546.50 702.95L737.40 512.05M546.50 708.23L737.40 517.33M546.50 713.51L737.40 522.61M546.50 718.79L737.40 527.89M546.50 724.07L737.40 533.17M546.50 729.35L737.40 538.45" stroke="#000" stroke-width="1.0" fill="none"/><path d="M549.26 488.24a0.75 0.75 0 1 0 1.50 0a0.75 0.75 0 1 0 -1.50 0M551.90 490.88a0.75 0.75 0 1 0 1.50 0a0.75 0.75 0 1 0 -1.50 0M549.26 493.52a0.75 0.75 0 1 0 1.50 0a0.75 0.75 0 1 0 -1.50 0M551.90 496.16a0.75 0.75 0 1 0 1.50 0a0.75 0.75 0 1 0 -1.50 0M549.26 498.80a0.75 0.75 0 1 0 1.50 0a0.75 0.75 0 1 0 -1.50 0M551.90 501.44a0.75 0.75 0 1 0 1.50 0a0.75 0.75 0 1 0 -1.50 0M549.26 504.08a0.75 0.75 0 1 0 1.50 0a0.75 0.75 0 1 0 -1.50 0M551.90 506.72a0.75 0.75 0 1 0 1.50 0a0.75 0.75 0 1 0 -1.50 0M549.26 509.36a0.75 0.75 0 1 0 1.50 0a0.75 0.75 0 1 0 -1.50 0M551.90 512.00a0.75 0.75 0 1 0 1.50 0a0.75 0.75 0 1 0 -1.50 0M549.26 514.64a0.75 0.75 0 1 0 1.50 0a0.75 0.75 0 1 0 -1.50 0M551.90 517.28a0.75 0.75 0 1 0 1.50 0a0.75 0.75 0 1 0 -1.50 0M549.26 519.92a0.75 0.75 0 1 0 1.50 0a0.75 0.75 0 1 0 -1.50 0M551.90 522.56a0.75 0.75 0 1 0 1.50 0a0.75 0.75 0 1 0 -1.50 0M549.26 525.20a0.75 0.75 0 1 0 1.50 0a0.75 0.75 0 1 0 -1.50 0M551.90 527.84a0.75 0.75 0 1 0 1.50 0a0.75 0.75 0 1 0 -1.50 0M549.26 530.48a0.75 0.75 0 1 0 1.50 0a0.75 0.75 0 1 0 -1.50 0M551.90 533.12a0.75 0.75 0 1 0 1.50 0a0.75 0.75 0 1 0 -1.50 0M549.26 535.76a0.75 0.75 0 1 0 1.50 0a0.75 0.75 0 1 0 -1.50 0M554.54 488.24a0.75 0.75 0 1 0 1.50 0a0.75 0.75 0 1 0 -1.50 0M557.18 490.88a0.75 0.75 0 1 0 1.50 0a0.75 0.75 0 1 0 -1.50 0M554.54 493.52a0.75 0.75 0 1 0 1.50 0a0.75 0.75 0 1 0 -1.50 0M557.18 496.16a0.75 0.75 0 1 0 1.50 0a0.75 0.75 0 1 0 -1.50 0M554.54 498.80a0.75 0.75 0 1 0 1.50 0a0.75 0.75 0 1 0 -1.50 0M557.18 501.44a0.75 0.75 0 1 0 1.50 0a0.75 0.75 0 1 0 -1.50 0M554.54 504.08a0.75 0.75 0 1 0 1.50 0a0.75 0.75 0 1 0 -1.50 0M557.18 506.72a0.75 0.75 0 1 0 1.50 0a0.75 0.75 0 1 0 -1.50 0M554.54 509.36a0.75 0.75 0 1 0 1.50 0a0.75 0.75 0 1 0 -1.50 0M557.18 512.00a0.75 0.75 0 1 0 1.50 0a0.75 0.75 0 1 0 -1.50 0M554.54 514.64a0.75 0.75 0 1 0 1.50 0a0.75 0.75 0 1 0 -1.50 0M557.18 517.28a0.75 0.75 0 1 0 1.50 0a0.75 0.75 0 1 0 -1.50 0M554.54 519.92a0.75 0.75 0 1 0 1.50 0a0.75 0.75 0 1 0 -1.50 0M557.18 522.56a0.75 0.75 0 1 0 1.50 0a0.75 0.75 0 1 0 -1.50 0M554.54 525.20a0.75 0.75 0 1 0 1.50 0a0.75 0.75 0 1 0 -1.50 0M557.18 527.84a0.75 0.75 0 1 0 1.50 0a0.75 0.75 0 1 0 -1.50 0M554.54 530.48a0.75 0.75 0 1 0 1.50 0a0.75 0.75 0 1 0 -1.50 0M557.18 533.12a0.75 0.75 0 1 0 1.50 0a0.75 0.75 0 1 0 -1.50 0M554.54 535.76a0.75 0.75 0 1 0 1.50 0a0.75 0.75 0 1 0 -1.50 0M559.82 488.24a0.75 0.75 0 1 0 1.50 0a0.75 0.75 0 1 0 -1.50 0M562.46 490.88a0.75 0.75 0 1 0 1.50 0a0.75 0.75 0 1 0 -1.50 0M559.82 493.52a0.75 0.75 0 1 0 1.50 0a0.75 0.75 0 1 0 -1.50 0M562.46 496.16a0.75 0.75 0 1 0 1.50 0a0.75 0.75 0 1 0 -1.50 0M559.82 498.80a0.75 0.75 0 1 0 1.50 0a0.75 0.75 0 1 0 -1.50 0M562.46 501.44a0.75 0.75 0 1 0 1.50 0a0.75 0.75 0 1 0 -1.50 0M559.82 504.08a0.75 0.75 0 1 0 1.50 0a0.75 0.75 0 1 0 -1.50 0M562.46 506.72a0.75 0.75 0 1 0 1.50 0a0.75 0.75 0 1 0 -1.50 0M559.82 509.36a0.75 0.75 0 1 0 1.50 0a0.75 0.75 0 1 0 -1.50 0M562.46 512.00a0.75 0.75 0 1 0 1.50 0a0.75 0.75 0 1 0 -1.50 0M559.82 514.64a0.75 0.75 0 1 0 1.50 0a0.75 0.75 0 1 0 -1.50 0M562.46 517.28a0.75 0.75 0 1 0 1.50 0a0.75 0.75 0 1 0 -1.50 0M559.82 519.92a0.75 0.75 0 1 0 1.50 0a0.75 0.75 0 1 0 -1.50 0M562.46 522.56a0.75 0.75 0 1 0 1.50 0a0.75 0.75 0 1 0 -1.50 0M559.82 525.20a0.75 0.75 0 1 0 1.50 0a0.75 0.75 0 1 0 -1.50 0M562.46 527.84a0.75 0.75 0 1 0 1.50 0a0.75 0.75 0 1 0 -1.50 0M559.82 530.48a0.75 0.75 0 1 0 1.50 0a0.75 0.75 0 1 0 -1.50 0M562.46 533.12a0.75 0.75 0 1 0 1.50 0a0.75 0.75 0 1 0 -1.50 0M559.82 535.76a0.75 0.75 0 1 0 1.50 0a0.75 0.75 0 1 0 -1.50 0M565.10 488.24a0.75 0.75 0 1 0 1.50 0a0.75 0.75 0 1 0 -1.50 0M567.74 490.88a0.75 0.75 0 1 0 1.50 0a0.75 0.75 0 1 0 -1.50 0M565.10 493.52a0.75 0.75 0 1 0 1.50 0a0.75 0.75 0 1 0 -1.50 0M567.74 496.16a0.75 0.75 0 1 0 1.50 0a0.75 0.75 0 1 0 -1.50 0M565.10 498.80a0.75 0.75 0 1 0 1.50 0a0.75 0.75 0 1 0 -1.50 0M567.74 501.44a0.75 0.75 0 1 0 1.50 0a0.75 0.75 0 1 0 -1.50 0M565.10 504.08a0.75 0.75 0 1 0 1.50 0a0.75 0.75 0 1 0 -1.50 0M567.74 506.72a0.75 0.75 0 1 0 1.50 0a0.75 0.75 0 1 0 -1.50 0M565.10 509.36a0.75 0.75 0 1 0 1.50 0a0.75 0.75 0 1 0 -1.50 0M567.74 512.00a0.75 0.75 0 1 0 1.50 0a0.75 0.75 0 1 0 -1.50 0M565.10 514.64a0.75 0.75 0 1 0 1.50 0a0.75 0.75 0 1 0 -1.50 0M567.74 517.28a0.75 0.75 0 1 0 1.50 0a0.75 0.75 0 1 0 -1.50 0M565.10 519.92a0.75 0.75 0 1 0 1.50 0a0.75 0.75 0 1 0 -1.50 0M567.74 522.56a0.75 0.75 0 1 0 1.50 0a0.75 0.75 0 1 0 -1.50 0M565.10 525.20a0.75 0.75 0 1 0 1.50 0a0.75 0.75 0 1 0 -1.50 0M567.74 527.84a0.75 0.75 0 1 0 1.50 0a0.75 0.75 0 1 0 -1.50 0M565.10 530.48a0.75 0.75 0 1 0 1.50 0a0.75 0.75 0 1 0 -1.50 0M567.74 533.12a0.75 0.75 0 1 0 1.50 0a0.75 0.75 0 1 0 -1.50 0M565.10 535.76a0.75 0.75 0 1 0 1.50 0a0.75 0.75 0 1 0 -1.50 0M570.38 488.24a0.75 0.75 0 1 0 1.50 0a0.75 0.75 0 1 0 -1.50 0M573.02 490.88a0.75 0.75 0 1 0 1.50 0a0.75 0.75 0 1 0 -1.50 0M570.38 493.52a0.75 0.75 0 1 0 1.50 0a0.75 0.75 0 1 0 -1.50 0M573.02 496.16a0.75 0.75 0 1 0 1.50 0a0.75 0.75 0 1 0 -1.50 0M570.38 498.80a0.75 0.75 0 1 0 1.50 0a0.75 0.75 0 1 0 -1.50 0M573.02 501.44a0.75 0.75 0 1 0 1.50 0a0.75 0.75 0 1 0 -1.50 0M570.38 504.08a0.75 0.75 0 1 0 1.50 0a0.75 0.75 0 1 0 -1.50 0M573.02 506.72a0.75 0.75 0 1 0 1.50 0a0.75 0.75 0 1 0 -1.50 0M570.38 509.36a0.75 0.75 0 1 0 1.50 0a0.75 0.75 0 1 0 -1.50 0M573.02 512.00a0.75 0.75 0 1 0 1.50 0a0.75 0.75 0 1 0 -1.50 0M570.38 514.64a0.75 0.75 0 1 0 1.50 0a0.75 0.75 0 1 0 -1.50 0M573.02 517.28a0.75 0.75 0 1 0 1.50 0a0.75 0.75 0 1 0 -1.50 0M570.38 519.92a0.75 0.75 0 1 0 1.50 0a0.75 0.75 0 1 0 -1.50 0M573.02 522.56a0.75 0.75 0 1 0 1.50 0a0.75 0.75 0 1 0 -1.50 0M570.38 525.20a0.75 0.75 0 1 0 1.50 0a0.75 0.75 0 1 0 -1.50 0M573.02 527.84a0.75 0.75 0 1 0 1.50 0a0.75 0.75 0 1 0 -1.50 0M570.38 530.48a0.75 0.75 0 1 0 1.50 0a0.75 0.75 0 1 0 -1.50 0M573.02 533.12a0.75 0.75 0 1 0 1.50 0a0.75 0.75 0 1 0 -1.50 0M570.38 535.76a0.75 0.75 0 1 0 1.50 0a0.75 0.75 0 1 0 -1.50 0M575.66 488.24a0.75 0.75 0 1 0 1.50 0a0.75 0.75 0 1 0 -1.50 0M578.30 490.88a0.75 0.75 0 1 0 1.50 0a0.75 0.75 0 1 0 -1.50 0M575.66 493.52a0.75 0.75 0 1 0 1.50 0a0.75 0.75 0 1 0 -1.50 0M578.30 496.16a0.75 0.75 0 1 0 1.50 0a0.75 0.75 0 1 0 -1.50 0M575.66 498.80a0.75 0.75 0 1 0 1.50 0a0.75 0.75 0 1 0 -1.50 0M578.30 501.44a0.75 0.75 0 1 0 1.50 0a0.75 0.75 0 1 0 -1.50 0M575.66 504.08a0.75 0.75 0 1 0 1.50 0a0.75 0.75 0 1 0 -1.50 0M578.30 506.72a0.75 0.75 0 1 0 1.50 0a0.75 0.75 0 1 0 -1.50 0M575.66 509.36a0.75 0.75 0 1 0 1.50 0a0.75 0.75 0 1 0 -1.50 0M578.30 512.00a0.75 0.75 0 1 0 1.50 0a0.75 0.75 0 1 0 -1.50 0M575.66 514.64a0.75 0.75 0 1 0 1.50 0a0.75 0.75 0 1 0 -1.50 0M578.30 517.28a0.75 0.75 0 1 0 1.50 0a0.75 0.75 0 1 0 -1.50 0M575.66 519.92a0.75 0.75 0 1 0 1.50 0a0.75 0.75 0 1 0 -1.50 0M578.30 522.56a0.75 0.75 0 1 0 1.50 0a0.75 0.75 0 1 0 -1.50 0M575.66 525.20a0.75 0.75 0 1 0 1.50 0a0.75 0.75 0 1 0 -1.50 0M578.30 527.84a0.75 0.75 0 1 0 1.50 0a0.75 0.75 0 1 0 -1.50 0M575.66 530.48a0.75 0.75 0 1 0 1.50 0a0.75 0.75 0 1 0 -1.50 0M578.30 533.12a0.75 0.75 0 1 0 1.50 0a0.75 0.75 0 1 0 -1.50 0M575.66 535.76a0.75 0.75 0 1 0 1.50 0a0.75 0.75 0 1 0 -1.50 0M580.94 488.24a0.75 0.75 0 1 0 1.50 0a0.75 0.75 0 1 0 -1.50 0M583.58 490.88a0.75 0.75 0 1 0 1.50 0a0.75 0.75 0 1 0 -1.50 0M580.94 493.52a0.75 0.75 0 1 0 1.50 0a0.75 0.75 0 1 0 -1.50 0M583.58 496.16a0.75 0.75 0 1 0 1.50 0a0.75 0.75 0 1 0 -1.50 0M580.94 498.80a0.75 0.75 0 1 0 1.50 0a0.75 0.75 0 1 0 -1.50 0M583.58 501.44a0.75 0.75 0 1 0 1.50 0a0.75 0.75 0 1 0 -1.50 0M580.94 504.08a0.75 0.75 0 1 0 1.50 0a0.75 0.75 0 1 0 -1.50 0M583.58 506.72a0.75 0.75 0 1 0 1.50 0a0.75 0.75 0 1 0 -1.50 0M580.94 509.36a0.75 0.75 0 1 0 1.50 0a0.75 0.75 0 1 0 -1.50 0M583.58 512.00a0.75 0.75 0 1 0 1.50 0a0.75 0.75 0 1 0 -1.50 0M580.94 514.64a0.75 0.75 0 1 0 1.50 0a0.75 0.75 0 1 0 -1.50 0M583.58 517.28a0.75 0.75 0 1 0 1.50 0a0.75 0.75 0 1 0 -1.50 0M580.94 519.92a0.75 0.75 0 1 0 1.50 0a0.75 0.75 0 1 0 -1.50 0M583.58 522.56a0.75 0.75 0 1 0 1.50 0a0.75 0.75 0 1 0 -1.50 0M580.94 525.20a0.75 0.75 0 1 0 1.50 0a0.75 0.75 0 1 0 -1.50 0M583.58 527.84a0.75 0.75 0 1 0 1.50 0a0.75 0.75 0 1 0 -1.50 0M580.94 530.48a0.75 0.75 0 1 0 1.50 0a0.75 0.75 0 1 0 -1.50 0M583.58 533.12a0.75 0.75 0 1 0 1.50 0a0.75 0.75 0 1 0 -1.50 0M580.94 535.76a0.75 0.75 0 1 0 1.50 0a0.75 0.75 0 1 0 -1.50 0M586.22 488.24a0.75 0.75 0 1 0 1.50 0a0.75 0.75 0 1 0 -1.50 0M588.86 490.88a0.75 0.75 0 1 0 1.50 0a0.75 0.75 0 1 0 -1.50 0M586.22 493.52a0.75 0.75 0 1 0 1.50 0a0.75 0.75 0 1 0 -1.50 0M588.86 496.16a0.75 0.75 0 1 0 1.50 0a0.75 0.75 0 1 0 -1.50 0M586.22 498.80a0.75 0.75 0 1 0 1.50 0a0.75 0.75 0 1 0 -1.50 0M588.86 501.44a0.75 0.75 0 1 0 1.50 0a0.75 0.75 0 1 0 -1.50 0M586.22 504.08a0.75 0.75 0 1 0 1.50 0a0.75 0.75 0 1 0 -1.50 0M588.86 506.72a0.75 0.75 0 1 0 1.50 0a0.75 0.75 0 1 0 -1.50 0M586.22 509.36a0.75 0.75 0 1 0 1.50 0a0.75 0.75 0 1 0 -1.50 0M588.86 512.00a0.75 0.75 0 1 0 1.50 0a0.75 0.75 0 1 0 -1.50 0M586.22 514.64a0.75 0.75 0 1 0 1.50 0a0.75 0.75 0 1 0 -1.50 0M588.86 517.28a0.75 0.75 0 1 0 1.50 0a0.75 0.75 0 1 0 -1.50 0M586.22 519.92a0.75 0.75 0 1 0 1.50 0a0.75 0.75 0 1 0 -1.50 0M588.86 522.56a0.75 0.75 0 1 0 1.50 0a0.75 0.75 0 1 0 -1.50 0M586.22 525.20a0.75 0.75 0 1 0 1.50 0a0.75 0.75 0 1 0 -1.50 0M588.86 527.84a0.75 0.75 0 1 0 1.50 0a0.75 0.75 0 1 0 -1.50 0M586.22 530.48a0.75 0.75 0 1 0 1.50 0a0.75 0.75 0 1 0 -1.50 0M588.86 533.12a0.75 0.75 0 1 0 1.50 0a0.75 0.75 0 1 0 -1.50 0M586.22 535.76a0.75 0.75 0 1 0 1.50 0a0.75 0.75 0 1 0 -1.50 0M591.50 488.24a0.75 0.75 0 1 0 1.50 0a0.75 0.75 0 1 0 -1.50 0M594.14 490.88a0.75 0.75 0 1 0 1.50 0a0.75 0.75 0 1 0 -1.50 0M591.50 493.52a0.75 0.75 0 1 0 1.50 0a0.75 0.75 0 1 0 -1.50 0M594.14 496.16a0.75 0.75 0 1 0 1.50 0a0.75 0.75 0 1 0 -1.50 0M591.50 498.80a0.75 0.75 0 1 0 1.50 0a0.75 0.75 0 1 0 -1.50 0M594.14 501.44a0.75 0.75 0 1 0 1.50 0a0.75 0.75 0 1 0 -1.50 0M591.50 504.08a0.75 0.75 0 1 0 1.50 0a0.75 0.75 0 1 0 -1.50 0M594.14 506.72a0.75 0.75 0 1 0 1.50 0a0.75 0.75 0 1 0 -1.50 0M591.50 509.36a0.75 0.75 0 1 0 1.50 0a0.75 0.75 0 1 0 -1.50 0M594.14 512.00a0.75 0.75 0 1 0 1.50 0a0.75 0.75 0 1 0 -1.50 0M591.50 514.64a0.75 0.75 0 1 0 1.50 0a0.75 0.75 0 1 0 -1.50 0M594.14 517.28a0.75 0.75 0 1 0 1.50 0a0.75 0.75 0 1 0 -1.50 0M591.50 519.92a0.75 0.75 0 1 0 1.50 0a0.75 0.75 0 1 0 -1.50 0M594.14 522.56a0.75 0.75 0 1 0 1.50 0a0.75 0.75 0 1 0 -1.50 0M591.50 525.20a0.75 0.75 0 1 0 1.50 0a0.75 0.75 0 1 0 -1.50 0M594.14 527.84a0.75 0.75 0 1 0 1.50 0a0.75 0.75 0 1 0 -1.50 0M591.50 530.48a0.75 0.75 0 1 0 1.50 0a0.75 0.75 0 1 0 -1.50 0M594.14 533.12a0.75 0.75 0 1 0 1.50 0a0.75 0.75 0 1 0 -1.50 0M591.50 535.76a0.75 0.75 0 1 0 1.50 0a0.75 0.75 0 1 0 -1.50 0M596.78 488.24a0.75 0.75 0 1 0 1.50 0a0.75 0.75 0 1 0 -1.50 0M599.42 490.88a0.75 0.75 0 1 0 1.50 0a0.75 0.75 0 1 0 -1.50 0M596.78 493.52a0.75 0.75 0 1 0 1.50 0a0.75 0.75 0 1 0 -1.50 0M599.42 496.16a0.75 0.75 0 1 0 1.50 0a0.75 0.75 0 1 0 -1.50 0M596.78 498.80a0.75 0.75 0 1 0 1.50 0a0.75 0.75 0 1 0 -1.50 0M599.42 501.44a0.75 0.75 0 1 0 1.50 0a0.75 0.75 0 1 0 -1.50 0M596.78 504.08a0.75 0.75 0 1 0 1.50 0a0.75 0.75 0 1 0 -1.50 0M599.42 506.72a0.75 0.75 0 1 0 1.50 0a0.75 0.75 0 1 0 -1.50 0M596.78 509.36a0.75 0.75 0 1 0 1.50 0a0.75 0.75 0 1 0 -1.50 0M599.42 512.00a0.75 0.75 0 1 0 1.50 0a0.75 0.75 0 1 0 -1.50 0M596.78 514.64a0.75 0.75 0 1 0 1.50 0a0.75 0.75 0 1 0 -1.50 0M599.42 517.28a0.75 0.75 0 1 0 1.50 0a0.75 0.75 0 1 0 -1.50 0M596.78 519.92a0.75 0.75 0 1 0 1.50 0a0.75 0.75 0 1 0 -1.50 0M599.42 522.56a0.75 0.75 0 1 0 1.50 0a0.75 0.75 0 1 0 -1.50 0M596.78 525.20a0.75 0.75 0 1 0 1.50 0a0.75 0.75 0 1 0 -1.50 0M599.42 527.84a0.75 0.75 0 1 0 1.50 0a0.75 0.75 0 1 0 -1.50 0M596.78 530.48a0.75 0.75 0 1 0 1.50 0a0.75 0.75 0 1 0 -1.50 0M599.42 533.12a0.75 0.75 0 1 0 1.50 0a0.75 0.75 0 1 0 -1.50 0M596.78 535.76a0.75 0.75 0 1 0 1.50 0a0.75 0.75 0 1 0 -1.50 0M602.06 488.24a0.75 0.75 0 1 0 1.50 0a0.75 0.75 0 1 0 -1.50 0M604.70 490.88a0.75 0.75 0 1 0 1.50 0a0.75 0.75 0 1 0 -1.50 0M602.06 493.52a0.75 0.75 0 1 0 1.50 0a0.75 0.75 0 1 0 -1.50 0M604.70 496.16a0.75 0.75 0 1 0 1.50 0a0.75 0.75 0 1 0 -1.50 0M602.06 498.80a0.75 0.75 0 1 0 1.50 0a0.75 0.75 0 1 0 -1.50 0M604.70 501.44a0.75 0.75 0 1 0 1.50 0a0.75 0.75 0 1 0 -1.50 0M602.06 504.08a0.75 0.75 0 1 0 1.50 0a0.75 0.75 0 1 0 -1.50 0M604.70 506.72a0.75 0.75 0 1 0 1.50 0a0.75 0.75 0 1 0 -1.50 0M602.06 509.36a0.75 0.75 0 1 0 1.50 0a0.75 0.75 0 1 0 -1.50 0M604.70 512.00a0.75 0.75 0 1 0 1.50 0a0.75 0.75 0 1 0 -1.50 0M602.06 514.64a0.75 0.75 0 1 0 1.50 0a0.75 0.75 0 1 0 -1.50 0M604.70 517.28a0.75 0.75 0 1 0 1.50 0a0.75 0.75 0 1 0 -1.50 0M602.06 519.92a0.75 0.75 0 1 0 1.50 0a0.75 0.75 0 1 0 -1.50 0M604.70 522.56a0.75 0.75 0 1 0 1.50 0a0.75 0.75 0 1 0 -1.50 0M602.06 525.20a0.75 0.75 0 1 0 1.50 0a0.75 0.75 0 1 0 -1.50 0M604.70 527.84a0.75 0.75 0 1 0 1.50 0a0.75 0.75 0 1 0 -1.50 0M602.06 530.48a0.75 0.75 0 1 0 1.50 0a0.75 0.75 0 1 0 -1.50 0M604.70 533.12a0.75 0.75 0 1 0 1.50 0a0.75 0.75 0 1 0 -1.50 0M602.06 535.76a0.75 0.75 0 1 0 1.50 0a0.75 0.75 0 1 0 -1.50 0M607.34 488.24a0.75 0.75 0 1 0 1.50 0a0.75 0.75 0 1 0 -1.50 0M609.98 490.88a0.75 0.75 0 1 0 1.50 0a0.75 0.75 0 1 0 -1.50 0M607.34 493.52a0.75 0.75 0 1 0 1.50 0a0.75 0.75 0 1 0 -1.50 0M609.98 496.16a0.75 0.75 0 1 0 1.50 0a0.75 0.75 0 1 0 -1.50 0M607.34 498.80a0.75 0.75 0 1 0 1.50 0a0.75 0.75 0 1 0 -1.50 0M609.98 501.44a0.75 0.75 0 1 0 1.50 0a0.75 0.75 0 1 0 -1.50 0M607.34 504.08a0.75 0.75 0 1 0 1.50 0a0.75 0.75 0 1 0 -1.50 0M609.98 506.72a0.75 0.75 0 1 0 1.50 0a0.75 0.75 0 1 0 -1.50 0M607.34 509.36a0.75 0.75 0 1 0 1.50 0a0.75 0.75 0 1 0 -1.50 0M609.98 512.00a0.75 0.75 0 1 0 1.50 0a0.75 0.75 0 1 0 -1.50 0M607.34 514.64a0.75 0.75 0 1 0 1.50 0a0.75 0.75 0 1 0 -1.50 0M609.98 517.28a0.75 0.75 0 1 0 1.50 0a0.75 0.75 0 1 0 -1.50 0M607.34 519.92a0.75 0.75 0 1 0 1.50 0a0.75 0.75 0 1 0 -1.50 0M609.98 522.56a0.75 0.75 0 1 0 1.50 0a0.75 0.75 0 1 0 -1.50 0M607.34 525.20a0.75 0.75 0 1 0 1.50 0a0.75 0.75 0 1 0 -1.50 0M609.98 527.84a0.75 0.75 0 1 0 1.50 0a0.75 0.75 0 1 0 -1.50 0M607.34 530.48a0.75 0.75 0 1 0 1.50 0a0.75 0.75 0 1 0 -1.50 0M609.98 533.12a0.75 0.75 0 1 0 1.50 0a0.75 0.75 0 1 0 -1.50 0M607.34 535.76a0.75 0.75 0 1 0 1.50 0a0.75 0.75 0 1 0 -1.50 0M612.62 488.24a0.75 0.75 0 1 0 1.50 0a0.75 0.75 0 1 0 -1.50 0M615.26 490.88a0.75 0.75 0 1 0 1.50 0a0.75 0.75 0 1 0 -1.50 0M612.62 493.52a0.75 0.75 0 1 0 1.50 0a0.75 0.75 0 1 0 -1.50 0M615.26 496.16a0.75 0.75 0 1 0 1.50 0a0.75 0.75 0 1 0 -1.50 0M612.62 498.80a0.75 0.75 0 1 0 1.50 0a0.75 0.75 0 1 0 -1.50 0M615.26 501.44a0.75 0.75 0 1 0 1.50 0a0.75 0.75 0 1 0 -1.50 0M612.62 504.08a0.75 0.75 0 1 0 1.50 0a0.75 0.75 0 1 0 -1.50 0M615.26 506.72a0.75 0.75 0 1 0 1.50 0a0.75 0.75 0 1 0 -1.50 0M612.62 509.36a0.75 0.75 0 1 0 1.50 0a0.75 0.75 0 1 0 -1.50 0M615.26 512.00a0.75 0.75 0 1 0 1.50 0a0.75 0.75 0 1 0 -1.50 0M612.62 514.64a0.75 0.75 0 1 0 1.50 0a0.75 0.75 0 1 0 -1.50 0M615.26 517.28a0.75 0.75 0 1 0 1.50 0a0.75 0.75 0 1 0 -1.50 0M612.62 519.92a0.75 0.75 0 1 0 1.50 0a0.75 0.75 0 1 0 -1.50 0M615.26 522.56a0.75 0.75 0 1 0 1.50 0a0.75 0.75 0 1 0 -1.50 0M612.62 525.20a0.75 0.75 0 1 0 1.50 0a0.75 0.75 0 1 0 -1.50 0M615.26 527.84a0.75 0.75 0 1 0 1.50 0a0.75 0.75 0 1 0 -1.50 0M612.62 530.48a0.75 0.75 0 1 0 1.50 0a0.75 0.75 0 1 0 -1.50 0M615.26 533.12a0.75 0.75 0 1 0 1.50 0a0.75 0.75 0 1 0 -1.50 0M612.62 535.76a0.75 0.75 0 1 0 1.50 0a0.75 0.75 0 1 0 -1.50 0M617.90 488.24a0.75 0.75 0 1 0 1.50 0a0.75 0.75 0 1 0 -1.50 0M620.54 490.88a0.75 0.75 0 1 0 1.50 0a0.75 0.75 0 1 0 -1.50 0M617.90 493.52a0.75 0.75 0 1 0 1.50 0a0.75 0.75 0 1 0 -1.50 0M620.54 496.16a0.75 0.75 0 1 0 1.50 0a0.75 0.75 0 1 0 -1.50 0M617.90 498.80a0.75 0.75 0 1 0 1.50 0a0.75 0.75 0 1 0 -1.50 0M620.54 501.44a0.75 0.75 0 1 0 1.50 0a0.75 0.75 0 1 0 -1.50 0M617.90 504.08a0.75 0.75 0 1 0 1.50 0a0.75 0.75 0 1 0 -1.50 0M620.54 506.72a0.75 0.75 0 1 0 1.50 0a0.75 0.75 0 1 0 -1.50 0M617.90 509.36a0.75 0.75 0 1 0 1.50 0a0.75 0.75 0 1 0 -1.50 0M620.54 512.00a0.75 0.75 0 1 0 1.50 0a0.75 0.75 0 1 0 -1.50 0M617.90 514.64a0.75 0.75 0 1 0 1.50 0a0.75 0.75 0 1 0 -1.50 0M620.54 517.28a0.75 0.75 0 1 0 1.50 0a0.75 0.75 0 1 0 -1.50 0M617.90 519.92a0.75 0.75 0 1 0 1.50 0a0.75 0.75 0 1 0 -1.50 0M620.54 522.56a0.75 0.75 0 1 0 1.50 0a0.75 0.75 0 1 0 -1.50 0M617.90 525.20a0.75 0.75 0 1 0 1.50 0a0.75 0.75 0 1 0 -1.50 0M620.54 527.84a0.75 0.75 0 1 0 1.50 0a0.75 0.75 0 1 0 -1.50 0M617.90 530.48a0.75 0.75 0 1 0 1.50 0a0.75 0.75 0 1 0 -1.50 0M620.54 533.12a0.75 0.75 0 1 0 1.50 0a0.75 0.75 0 1 0 -1.50 0M617.90 535.76a0.75 0.75 0 1 0 1.50 0a0.75 0.75 0 1 0 -1.50 0M623.18 488.24a0.75 0.75 0 1 0 1.50 0a0.75 0.75 0 1 0 -1.50 0M625.82 490.88a0.75 0.75 0 1 0 1.50 0a0.75 0.75 0 1 0 -1.50 0M623.18 493.52a0.75 0.75 0 1 0 1.50 0a0.75 0.75 0 1 0 -1.50 0M625.82 496.16a0.75 0.75 0 1 0 1.50 0a0.75 0.75 0 1 0 -1.50 0M623.18 498.80a0.75 0.75 0 1 0 1.50 0a0.75 0.75 0 1 0 -1.50 0M625.82 501.44a0.75 0.75 0 1 0 1.50 0a0.75 0.75 0 1 0 -1.50 0M623.18 504.08a0.75 0.75 0 1 0 1.50 0a0.75 0.75 0 1 0 -1.50 0M625.82 506.72a0.75 0.75 0 1 0 1.50 0a0.75 0.75 0 1 0 -1.50 0M623.18 509.36a0.75 0.75 0 1 0 1.50 0a0.75 0.75 0 1 0 -1.50 0M625.82 512.00a0.75 0.75 0 1 0 1.50 0a0.75 0.75 0 1 0 -1.50 0M623.18 514.64a0.75 0.75 0 1 0 1.50 0a0.75 0.75 0 1 0 -1.50 0M625.82 517.28a0.75 0.75 0 1 0 1.50 0a0.75 0.75 0 1 0 -1.50 0M623.18 519.92a0.75 0.75 0 1 0 1.50 0a0.75 0.75 0 1 0 -1.50 0M625.82 522.56a0.75 0.75 0 1 0 1.50 0a0.75 0.75 0 1 0 -1.50 0M623.18 525.20a0.75 0.75 0 1 0 1.50 0a0.75 0.75 0 1 0 -1.50 0M625.82 527.84a0.75 0.75 0 1 0 1.50 0a0.75 0.75 0 1 0 -1.50 0M623.18 530.48a0.75 0.75 0 1 0 1.50 0a0.75 0.75 0 1 0 -1.50 0M625.82 533.12a0.75 0.75 0 1 0 1.50 0a0.75 0.75 0 1 0 -1.50 0M623.18 535.76a0.75 0.75 0 1 0 1.50 0a0.75 0.75 0 1 0 -1.50 0M628.46 488.24a0.75 0.75 0 1 0 1.50 0a0.75 0.75 0 1 0 -1.50 0M631.10 490.88a0.75 0.75 0 1 0 1.50 0a0.75 0.75 0 1 0 -1.50 0M628.46 493.52a0.75 0.75 0 1 0 1.50 0a0.75 0.75 0 1 0 -1.50 0M631.10 496.16a0.75 0.75 0 1 0 1.50 0a0.75 0.75 0 1 0 -1.50 0M628.46 498.80a0.75 0.75 0 1 0 1.50 0a0.75 0.75 0 1 0 -1.50 0M631.10 501.44a0.75 0.75 0 1 0 1.50 0a0.75 0.75 0 1 0 -1.50 0M628.46 504.08a0.75 0.75 0 1 0 1.50 0a0.75 0.75 0 1 0 -1.50 0M631.10 506.72a0.75 0.75 0 1 0 1.50 0a0.75 0.75 0 1 0 -1.50 0M628.46 509.36a0.75 0.75 0 1 0 1.50 0a0.75 0.75 0 1 0 -1.50 0M631.10 512.00a0.75 0.75 0 1 0 1.50 0a0.75 0.75 0 1 0 -1.50 0M628.46 514.64a0.75 0.75 0 1 0 1.50 0a0.75 0.75 0 1 0 -1.50 0M631.10 517.28a0.75 0.75 0 1 0 1.50 0a0.75 0.75 0 1 0 -1.50 0M628.46 519.92a0.75 0.75 0 1 0 1.50 0a0.75 0.75 0 1 0 -1.50 0M631.10 522.56a0.75 0.75 0 1 0 1.50 0a0.75 0.75 0 1 0 -1.50 0M628.46 525.20a0.75 0.75 0 1 0 1.50 0a0.75 0.75 0 1 0 -1.50 0M631.10 527.84a0.75 0.75 0 1 0 1.50 0a0.75 0.75 0 1 0 -1.50 0M628.46 530.48a0.75 0.75 0 1 0 1.50 0a0.75 0.75 0 1 0 -1.50 0M631.10 533.12a0.75 0.75 0 1 0 1.50 0a0.75 0.75 0 1 0 -1.50 0M628.46 535.76a0.75 0.75 0 1 0 1.50 0a0.75 0.75 0 1 0 -1.50 0M633.74 488.24a0.75 0.75 0 1 0 1.50 0a0.75 0.75 0 1 0 -1.50 0M636.38 490.88a0.75 0.75 0 1 0 1.50 0a0.75 0.75 0 1 0 -1.50 0M633.74 493.52a0.75 0.75 0 1 0 1.50 0a0.75 0.75 0 1 0 -1.50 0M636.38 496.16a0.75 0.75 0 1 0 1.50 0a0.75 0.75 0 1 0 -1.50 0M633.74 498.80a0.75 0.75 0 1 0 1.50 0a0.75 0.75 0 1 0 -1.50 0M636.38 501.44a0.75 0.75 0 1 0 1.50 0a0.75 0.75 0 1 0 -1.50 0M633.74 504.08a0.75 0.75 0 1 0 1.50 0a0.75 0.75 0 1 0 -1.50 0M636.38 506.72a0.75 0.75 0 1 0 1.50 0a0.75 0.75 0 1 0 -1.50 0M633.74 509.36a0.75 0.75 0 1 0 1.50 0a0.75 0.75 0 1 0 -1.50 0M636.38 512.00a0.75 0.75 0 1 0 1.50 0a0.75 0.75 0 1 0 -1.50 0M633.74 514.64a0.75 0.75 0 1 0 1.50 0a0.75 0.75 0 1 0 -1.50 0M636.38 517.28a0.75 0.75 0 1 0 1.50 0a0.75 0.75 0 1 0 -1.50 0M633.74 519.92a0.75 0.75 0 1 0 1.50 0a0.75 0.75 0 1 0 -1.50 0M636.38 522.56a0.75 0.75 0 1 0 1.50 0a0.75 0.75 0 1 0 -1.50 0M633.74 525.20a0.75 0.75 0 1 0 1.50 0a0.75 0.75 0 1 0 -1.50 0M636.38 527.84a0.75 0.75 0 1 0 1.50 0a0.75 0.75 0 1 0 -1.50 0M633.74 530.48a0.75 0.75 0 1 0 1.50 0a0.75 0.75 0 1 0 -1.50 0M636.38 533.12a0.75 0.75 0 1 0 1.50 0a0.75 0.75 0 1 0 -1.50 0M633.74 535.76a0.75 0.75 0 1 0 1.50 0a0.75 0.75 0 1 0 -1.50 0M639.02 488.24a0.75 0.75 0 1 0 1.50 0a0.75 0.75 0 1 0 -1.50 0M641.66 490.88a0.75 0.75 0 1 0 1.50 0a0.75 0.75 0 1 0 -1.50 0M639.02 493.52a0.75 0.75 0 1 0 1.50 0a0.75 0.75 0 1 0 -1.50 0M641.66 496.16a0.75 0.75 0 1 0 1.50 0a0.75 0.75 0 1 0 -1.50 0M639.02 498.80a0.75 0.75 0 1 0 1.50 0a0.75 0.75 0 1 0 -1.50 0M641.66 501.44a0.75 0.75 0 1 0 1.50 0a0.75 0.75 0 1 0 -1.50 0M639.02 504.08a0.75 0.75 0 1 0 1.50 0a0.75 0.75 0 1 0 -1.50 0M641.66 506.72a0.75 0.75 0 1 0 1.50 0a0.75 0.75 0 1 0 -1.50 0M639.02 509.36a0.75 0.75 0 1 0 1.50 0a0.75 0.75 0 1 0 -1.50 0M641.66 512.00a0.75 0.75 0 1 0 1.50 0a0.75 0.75 0 1 0 -1.50 0M639.02 514.64a0.75 0.75 0 1 0 1.50 0a0.75 0.75 0 1 0 -1.50 0M641.66 517.28a0.75 0.75 0 1 0 1.50 0a0.75 0.75 0 1 0 -1.50 0M639.02 519.92a0.75 0.75 0 1 0 1.50 0a0.75 0.75 0 1 0 -1.50 0M641.66 522.56a0.75 0.75 0 1 0 1.50 0a0.75 0.75 0 1 0 -1.50 0M639.02 525.20a0.75 0.75 0 1 0 1.50 0a0.75 0.75 0 1 0 -1.50 0M641.66 527.84a0.75 0.75 0 1 0 1.50 0a0.75 0.75 0 1 0 -1.50 0M639.02 530.48a0.75 0.75 0 1 0 1.50 0a0.75 0.75 0 1 0 -1.50 0M641.66 533.12a0.75 0.75 0 1 0 1.50 0a0.75 0.75 0 1 0 -1.50 0M639.02 535.76a0.75 0.75 0 1 0 1.50 0a0.75 0.75 0 1 0 -1.50 0M644.30 488.24a0.75 0.75 0 1 0 1.50 0a0.75 0.75 0 1 0 -1.50 0M646.94 490.88a0.75 0.75 0 1 0 1.50 0a0.75 0.75 0 1 0 -1.50 0M644.30 493.52a0.75 0.75 0 1 0 1.50 0a0.75 0.75 0 1 0 -1.50 0M646.94 496.16a0.75 0.75 0 1 0 1.50 0a0.75 0.75 0 1 0 -1.50 0M644.30 498.80a0.75 0.75 0 1 0 1.50 0a0.75 0.75 0 1 0 -1.50 0M646.94 501.44a0.75 0.75 0 1 0 1.50 0a0.75 0.75 0 1 0 -1.50 0M644.30 504.08a0.75 0.75 0 1 0 1.50 0a0.75 0.75 0 1 0 -1.50 0M646.94 506.72a0.75 0.75 0 1 0 1.50 0a0.75 0.75 0 1 0 -1.50 0M644.30 509.36a0.75 0.75 0 1 0 1.50 0a0.75 0.75 0 1 0 -1.50 0M646.94 512.00a0.75 0.75 0 1 0 1.50 0a0.75 0.75 0 1 0 -1.50 0M644.30 514.64a0.75 0.75 0 1 0 1.50 0a0.75 0.75 0 1 0 -1.50 0M646.94 517.28a0.75 0.75 0 1 0 1.50 0a0.75 0.75 0 1 0 -1.50 0M644.30 519.92a0.75 0.75 0 1 0 1.50 0a0.75 0.75 0 1 0 -1.50 0M646.94 522.56a0.75 0.75 0 1 0 1.50 0a0.75 0.75 0 1 0 -1.50 0M644.30 525.20a0.75 0.75 0 1 0 1.50 0a0.75 0.75 0 1 0 -1.50 0M646.94 527.84a0.75 0.75 0 1 0 1.50 0a0.75 0.75 0 1 0 -1.50 0M644.30 530.48a0.75 0.75 0 1 0 1.50 0a0.75 0.75 0 1 0 -1.50 0M646.94 533.12a0.75 0.75 0 1 0 1.50 0a0.75 0.75 0 1 0 -1.50 0M644.30 535.76a0.75 0.75 0 1 0 1.50 0a0.75 0.75 0 1 0 -1.50 0M649.58 488.24a0.75 0.75 0 1 0 1.50 0a0.75 0.75 0 1 0 -1.50 0M652.22 490.88a0.75 0.75 0 1 0 1.50 0a0.75 0.75 0 1 0 -1.50 0M649.58 493.52a0.75 0.75 0 1 0 1.50 0a0.75 0.75 0 1 0 -1.50 0M652.22 496.16a0.75 0.75 0 1 0 1.50 0a0.75 0.75 0 1 0 -1.50 0M649.58 498.80a0.75 0.75 0 1 0 1.50 0a0.75 0.75 0 1 0 -1.50 0M652.22 501.44a0.75 0.75 0 1 0 1.50 0a0.75 0.75 0 1 0 -1.50 0M649.58 504.08a0.75 0.75 0 1 0 1.50 0a0.75 0.75 0 1 0 -1.50 0M652.22 506.72a0.75 0.75 0 1 0 1.50 0a0.75 0.75 0 1 0 -1.50 0M649.58 509.36a0.75 0.75 0 1 0 1.50 0a0.75 0.75 0 1 0 -1.50 0M652.22 512.00a0.75 0.75 0 1 0 1.50 0a0.75 0.75 0 1 0 -1.50 0M649.58 514.64a0.75 0.75 0 1 0 1.50 0a0.75 0.75 0 1 0 -1.50 0M652.22 517.28a0.75 0.75 0 1 0 1.50 0a0.75 0.75 0 1 0 -1.50 0M649.58 519.92a0.75 0.75 0 1 0 1.50 0a0.75 0.75 0 1 0 -1.50 0M652.22 522.56a0.75 0.75 0 1 0 1.50 0a0.75 0.75 0 1 0 -1.50 0M649.58 525.20a0.75 0.75 0 1 0 1.50 0a0.75 0.75 0 1 0 -1.50 0M652.22 527.84a0.75 0.75 0 1 0 1.50 0a0.75 0.75 0 1 0 -1.50 0M649.58 530.48a0.75 0.75 0 1 0 1.50 0a0.75 0.75 0 1 0 -1.50 0M652.22 533.12a0.75 0.75 0 1 0 1.50 0a0.75 0.75 0 1 0 -1.50 0M649.58 535.76a0.75 0.75 0 1 0 1.50 0a0.75 0.75 0 1 0 -1.50 0M654.86 488.24a0.75 0.75 0 1 0 1.50 0a0.75 0.75 0 1 0 -1.50 0M657.50 490.88a0.75 0.75 0 1 0 1.50 0a0.75 0.75 0 1 0 -1.50 0M654.86 493.52a0.75 0.75 0 1 0 1.50 0a0.75 0.75 0 1 0 -1.50 0M657.50 496.16a0.75 0.75 0 1 0 1.50 0a0.75 0.75 0 1 0 -1.50 0M654.86 498.80a0.75 0.75 0 1 0 1.50 0a0.75 0.75 0 1 0 -1.50 0M657.50 501.44a0.75 0.75 0 1 0 1.50 0a0.75 0.75 0 1 0 -1.50 0M654.86 504.08a0.75 0.75 0 1 0 1.50 0a0.75 0.75 0 1 0 -1.50 0M657.50 506.72a0.75 0.75 0 1 0 1.50 0a0.75 0.75 0 1 0 -1.50 0M654.86 509.36a0.75 0.75 0 1 0 1.50 0a0.75 0.75 0 1 0 -1.50 0M657.50 512.00a0.75 0.75 0 1 0 1.50 0a0.75 0.75 0 1 0 -1.50 0M654.86 514.64a0.75 0.75 0 1 0 1.50 0a0.75 0.75 0 1 0 -1.50 0M657.50 517.28a0.75 0.75 0 1 0 1.50 0a0.75 0.75 0 1 0 -1.50 0M654.86 519.92a0.75 0.75 0 1 0 1.50 0a0.75 0.75 0 1 0 -1.50 0M657.50 522.56a0.75 0.75 0 1 0 1.50 0a0.75 0.75 0 1 0 -1.50 0M654.86 525.20a0.75 0.75 0 1 0 1.50 0a0.75 0.75 0 1 0 -1.50 0M657.50 527.84a0.75 0.75 0 1 0 1.50 0a0.75 0.75 0 1 0 -1.50 0M654.86 530.48a0.75 0.75 0 1 0 1.50 0a0.75 0.75 0 1 0 -1.50 0M657.50 533.12a0.75 0.75 0 1 0 1.50 0a0.75 0.75 0 1 0 -1.50 0M654.86 535.76a0.75 0.75 0 1 0 1.50 0a0.75 0.75 0 1 0 -1.50 0M660.14 488.24a0.75 0.75 0 1 0 1.50 0a0.75 0.75 0 1 0 -1.50 0M662.78 490.88a0.75 0.75 0 1 0 1.50 0a0.75 0.75 0 1 0 -1.50 0M660.14 493.52a0.75 0.75 0 1 0 1.50 0a0.75 0.75 0 1 0 -1.50 0M662.78 496.16a0.75 0.75 0 1 0 1.50 0a0.75 0.75 0 1 0 -1.50 0M660.14 498.80a0.75 0.75 0 1 0 1.50 0a0.75 0.75 0 1 0 -1.50 0M662.78 501.44a0.75 0.75 0 1 0 1.50 0a0.75 0.75 0 1 0 -1.50 0M660.14 504.08a0.75 0.75 0 1 0 1.50 0a0.75 0.75 0 1 0 -1.50 0M662.78 506.72a0.75 0.75 0 1 0 1.50 0a0.75 0.75 0 1 0 -1.50 0M660.14 509.36a0.75 0.75 0 1 0 1.50 0a0.75 0.75 0 1 0 -1.50 0M662.78 512.00a0.75 0.75 0 1 0 1.50 0a0.75 0.75 0 1 0 -1.50 0M660.14 514.64a0.75 0.75 0 1 0 1.50 0a0.75 0.75 0 1 0 -1.50 0M662.78 517.28a0.75 0.75 0 1 0 1.50 0a0.75 0.75 0 1 0 -1.50 0M660.14 519.92a0.75 0.75 0 1 0 1.50 0a0.75 0.75 0 1 0 -1.50 0M662.78 522.56a0.75 0.75 0 1 0 1.50 0a0.75 0.75 0 1 0 -1.50 0M660.14 525.20a0.75 0.75 0 1 0 1.50 0a0.75 0.75 0 1 0 -1.50 0M662.78 527.84a0.75 0.75 0 1 0 1.50 0a0.75 0.75 0 1 0 -1.50 0M660.14 530.48a0.75 0.75 0 1 0 1.50 0a0.75 0.75 0 1 0 -1.50 0M662.78 533.12a0.75 0.75 0 1 0 1.50 0a0.75 0.75 0 1 0 -1.50 0M660.14 535.76a0.75 0.75 0 1 0 1.50 0a0.75 0.75 0 1 0 -1.50 0M665.42 488.24a0.75 0.75 0 1 0 1.50 0a0.75 0.75 0 1 0 -1.50 0M668.06 490.88a0.75 0.75 0 1 0 1.50 0a0.75 0.75 0 1 0 -1.50 0M665.42 493.52a0.75 0.75 0 1 0 1.50 0a0.75 0.75 0 1 0 -1.50 0M668.06 496.16a0.75 0.75 0 1 0 1.50 0a0.75 0.75 0 1 0 -1.50 0M665.42 498.80a0.75 0.75 0 1 0 1.50 0a0.75 0.75 0 1 0 -1.50 0M668.06 501.44a0.75 0.75 0 1 0 1.50 0a0.75 0.75 0 1 0 -1.50 0M665.42 504.08a0.75 0.75 0 1 0 1.50 0a0.75 0.75 0 1 0 -1.50 0M668.06 506.72a0.75 0.75 0 1 0 1.50 0a0.75 0.75 0 1 0 -1.50 0M665.42 509.36a0.75 0.75 0 1 0 1.50 0a0.75 0.75 0 1 0 -1.50 0M668.06 512.00a0.75 0.75 0 1 0 1.50 0a0.75 0.75 0 1 0 -1.50 0M665.42 514.64a0.75 0.75 0 1 0 1.50 0a0.75 0.75 0 1 0 -1.50 0M668.06 517.28a0.75 0.75 0 1 0 1.50 0a0.75 0.75 0 1 0 -1.50 0M665.42 519.92a0.75 0.75 0 1 0 1.50 0a0.75 0.75 0 1 0 -1.50 0M668.06 522.56a0.75 0.75 0 1 0 1.50 0a0.75 0.75 0 1 0 -1.50 0M665.42 525.20a0.75 0.75 0 1 0 1.50 0a0.75 0.75 0 1 0 -1.50 0M668.06 527.84a0.75 0.75 0 1 0 1.50 0a0.75 0.75 0 1 0 -1.50 0M665.42 530.48a0.75 0.75 0 1 0 1.50 0a0.75 0.75 0 1 0 -1.50 0M668.06 533.12a0.75 0.75 0 1 0 1.50 0a0.75 0.75 0 1 0 -1.50 0M665.42 535.76a0.75 0.75 0 1 0 1.50 0a0.75 0.75 0 1 0 -1.50 0M670.70 488.24a0.75 0.75 0 1 0 1.50 0a0.75 0.75 0 1 0 -1.50 0M673.34 490.88a0.75 0.75 0 1 0 1.50 0a0.75 0.75 0 1 0 -1.50 0M670.70 493.52a0.75 0.75 0 1 0 1.50 0a0.75 0.75 0 1 0 -1.50 0M673.34 496.16a0.75 0.75 0 1 0 1.50 0a0.75 0.75 0 1 0 -1.50 0M670.70 498.80a0.75 0.75 0 1 0 1.50 0a0.75 0.75 0 1 0 -1.50 0M673.34 501.44a0.75 0.75 0 1 0 1.50 0a0.75 0.75 0 1 0 -1.50 0M670.70 504.08a0.75 0.75 0 1 0 1.50 0a0.75 0.75 0 1 0 -1.50 0M673.34 506.72a0.75 0.75 0 1 0 1.50 0a0.75 0.75 0 1 0 -1.50 0M670.70 509.36a0.75 0.75 0 1 0 1.50 0a0.75 0.75 0 1 0 -1.50 0M673.34 512.00a0.75 0.75 0 1 0 1.50 0a0.75 0.75 0 1 0 -1.50 0M670.70 514.64a0.75 0.75 0 1 0 1.50 0a0.75 0.75 0 1 0 -1.50 0M673.34 517.28a0.75 0.75 0 1 0 1.50 0a0.75 0.75 0 1 0 -1.50 0M670.70 519.92a0.75 0.75 0 1 0 1.50 0a0.75 0.75 0 1 0 -1.50 0M673.34 522.56a0.75 0.75 0 1 0 1.50 0a0.75 0.75 0 1 0 -1.50 0M670.70 525.20a0.75 0.75 0 1 0 1.50 0a0.75 0.75 0 1 0 -1.50 0M673.34 527.84a0.75 0.75 0 1 0 1.50 0a0.75 0.75 0 1 0 -1.50 0M670.70 530.48a0.75 0.75 0 1 0 1.50 0a0.75 0.75 0 1 0 -1.50 0M673.34 533.12a0.75 0.75 0 1 0 1.50 0a0.75 0.75 0 1 0 -1.50 0M670.70 535.76a0.75 0.75 0 1 0 1.50 0a0.75 0.75 0 1 0 -1.50 0M675.98 488.24a0.75 0.75 0 1 0 1.50 0a0.75 0.75 0 1 0 -1.50 0M678.62 490.88a0.75 0.75 0 1 0 1.50 0a0.75 0.75 0 1 0 -1.50 0M675.98 493.52a0.75 0.75 0 1 0 1.50 0a0.75 0.75 0 1 0 -1.50 0M678.62 496.16a0.75 0.75 0 1 0 1.50 0a0.75 0.75 0 1 0 -1.50 0M675.98 498.80a0.75 0.75 0 1 0 1.50 0a0.75 0.75 0 1 0 -1.50 0M678.62 501.44a0.75 0.75 0 1 0 1.50 0a0.75 0.75 0 1 0 -1.50 0M675.98 504.08a0.75 0.75 0 1 0 1.50 0a0.75 0.75 0 1 0 -1.50 0M678.62 506.72a0.75 0.75 0 1 0 1.50 0a0.75 0.75 0 1 0 -1.50 0M675.98 509.36a0.75 0.75 0 1 0 1.50 0a0.75 0.75 0 1 0 -1.50 0M678.62 512.00a0.75 0.75 0 1 0 1.50 0a0.75 0.75 0 1 0 -1.50 0M675.98 514.64a0.75 0.75 0 1 0 1.50 0a0.75 0.75 0 1 0 -1.50 0M678.62 517.28a0.75 0.75 0 1 0 1.50 0a0.75 0.75 0 1 0 -1.50 0M675.98 519.92a0.75 0.75 0 1 0 1.50 0a0.75 0.75 0 1 0 -1.50 0M678.62 522.56a0.75 0.75 0 1 0 1.50 0a0.75 0.75 0 1 0 -1.50 0M675.98 525.20a0.75 0.75 0 1 0 1.50 0a0.75 0.75 0 1 0 -1.50 0M678.62 527.84a0.75 0.75 0 1 0 1.50 0a0.75 0.75 0 1 0 -1.50 0M675.98 530.48a0.75 0.75 0 1 0 1.50 0a0.75 0.75 0 1 0 -1.50 0M678.62 533.12a0.75 0.75 0 1 0 1.50 0a0.75 0.75 0 1 0 -1.50 0M675.98 535.76a0.75 0.75 0 1 0 1.50 0a0.75 0.75 0 1 0 -1.50 0M681.26 488.24a0.75 0.75 0 1 0 1.50 0a0.75 0.75 0 1 0 -1.50 0M683.90 490.88a0.75 0.75 0 1 0 1.50 0a0.75 0.75 0 1 0 -1.50 0M681.26 493.52a0.75 0.75 0 1 0 1.50 0a0.75 0.75 0 1 0 -1.50 0M683.90 496.16a0.75 0.75 0 1 0 1.50 0a0.75 0.75 0 1 0 -1.50 0M681.26 498.80a0.75 0.75 0 1 0 1.50 0a0.75 0.75 0 1 0 -1.50 0M683.90 501.44a0.75 0.75 0 1 0 1.50 0a0.75 0.75 0 1 0 -1.50 0M681.26 504.08a0.75 0.75 0 1 0 1.50 0a0.75 0.75 0 1 0 -1.50 0M683.90 506.72a0.75 0.75 0 1 0 1.50 0a0.75 0.75 0 1 0 -1.50 0M681.26 509.36a0.75 0.75 0 1 0 1.50 0a0.75 0.75 0 1 0 -1.50 0M683.90 512.00a0.75 0.75 0 1 0 1.50 0a0.75 0.75 0 1 0 -1.50 0M681.26 514.64a0.75 0.75 0 1 0 1.50 0a0.75 0.75 0 1 0 -1.50 0M683.90 517.28a0.75 0.75 0 1 0 1.50 0a0.75 0.75 0 1 0 -1.50 0M681.26 519.92a0.75 0.75 0 1 0 1.50 0a0.75 0.75 0 1 0 -1.50 0M683.90 522.56a0.75 0.75 0 1 0 1.50 0a0.75 0.75 0 1 0 -1.50 0M681.26 525.20a0.75 0.75 0 1 0 1.50 0a0.75 0.75 0 1 0 -1.50 0M683.90 527.84a0.75 0.75 0 1 0 1.50 0a0.75 0.75 0 1 0 -1.50 0M681.26 530.48a0.75 0.75 0 1 0 1.50 0a0.75 0.75 0 1 0 -1.50 0M683.90 533.12a0.75 0.75 0 1 0 1.50 0a0.75 0.75 0 1 0 -1.50 0M681.26 535.76a0.75 0.75 0 1 0 1.50 0a0.75 0.75 0 1 0 -1.50 0M686.54 488.24a0.75 0.75 0 1 0 1.50 0a0.75 0.75 0 1 0 -1.50 0M689.18 490.88a0.75 0.75 0 1 0 1.50 0a0.75 0.75 0 1 0 -1.50 0M686.54 493.52a0.75 0.75 0 1 0 1.50 0a0.75 0.75 0 1 0 -1.50 0M689.18 496.16a0.75 0.75 0 1 0 1.50 0a0.75 0.75 0 1 0 -1.50 0M686.54 498.80a0.75 0.75 0 1 0 1.50 0a0.75 0.75 0 1 0 -1.50 0M689.18 501.44a0.75 0.75 0 1 0 1.50 0a0.75 0.75 0 1 0 -1.50 0M686.54 504.08a0.75 0.75 0 1 0 1.50 0a0.75 0.75 0 1 0 -1.50 0M689.18 506.72a0.75 0.75 0 1 0 1.50 0a0.75 0.75 0 1 0 -1.50 0M686.54 509.36a0.75 0.75 0 1 0 1.50 0a0.75 0.75 0 1 0 -1.50 0M689.18 512.00a0.75 0.75 0 1 0 1.50 0a0.75 0.75 0 1 0 -1.50 0M686.54 514.64a0.75 0.75 0 1 0 1.50 0a0.75 0.75 0 1 0 -1.50 0M689.18 517.28a0.75 0.75 0 1 0 1.50 0a0.75 0.75 0 1 0 -1.50 0M686.54 519.92a0.75 0.75 0 1 0 1.50 0a0.75 0.75 0 1 0 -1.50 0M689.18 522.56a0.75 0.75 0 1 0 1.50 0a0.75 0.75 0 1 0 -1.50 0M686.54 525.20a0.75 0.75 0 1 0 1.50 0a0.75 0.75 0 1 0 -1.50 0M689.18 527.84a0.75 0.75 0 1 0 1.50 0a0.75 0.75 0 1 0 -1.50 0M686.54 530.48a0.75 0.75 0 1 0 1.50 0a0.75 0.75 0 1 0 -1.50 0M689.18 533.12a0.75 0.75 0 1 0 1.50 0a0.75 0.75 0 1 0 -1.50 0M686.54 535.76a0.75 0.75 0 1 0 1.50 0a0.75 0.75 0 1 0 -1.50 0M691.82 488.24a0.75 0.75 0 1 0 1.50 0a0.75 0.75 0 1 0 -1.50 0M694.46 490.88a0.75 0.75 0 1 0 1.50 0a0.75 0.75 0 1 0 -1.50 0M691.82 493.52a0.75 0.75 0 1 0 1.50 0a0.75 0.75 0 1 0 -1.50 0M694.46 496.16a0.75 0.75 0 1 0 1.50 0a0.75 0.75 0 1 0 -1.50 0M691.82 498.80a0.75 0.75 0 1 0 1.50 0a0.75 0.75 0 1 0 -1.50 0M694.46 501.44a0.75 0.75 0 1 0 1.50 0a0.75 0.75 0 1 0 -1.50 0M691.82 504.08a0.75 0.75 0 1 0 1.50 0a0.75 0.75 0 1 0 -1.50 0M694.46 506.72a0.75 0.75 0 1 0 1.50 0a0.75 0.75 0 1 0 -1.50 0M691.82 509.36a0.75 0.75 0 1 0 1.50 0a0.75 0.75 0 1 0 -1.50 0M694.46 512.00a0.75 0.75 0 1 0 1.50 0a0.75 0.75 0 1 0 -1.50 0M691.82 514.64a0.75 0.75 0 1 0 1.50 0a0.75 0.75 0 1 0 -1.50 0M694.46 517.28a0.75 0.75 0 1 0 1.50 0a0.75 0.75 0 1 0 -1.50 0M691.82 519.92a0.75 0.75 0 1 0 1.50 0a0.75 0.75 0 1 0 -1.50 0M694.46 522.56a0.75 0.75 0 1 0 1.50 0a0.75 0.75 0 1 0 -1.50 0M691.82 525.20a0.75 0.75 0 1 0 1.50 0a0.75 0.75 0 1 0 -1.50 0M694.46 527.84a0.75 0.75 0 1 0 1.50 0a0.75 0.75 0 1 0 -1.50 0M691.82 530.48a0.75 0.75 0 1 0 1.50 0a0.75 0.75 0 1 0 -1.50 0M694.46 533.12a0.75 0.75 0 1 0 1.50 0a0.75 0.75 0 1 0 -1.50 0M691.82 535.76a0.75 0.75 0 1 0 1.50 0a0.75 0.75 0 1 0 -1.50 0M697.10 488.24a0.75 0.75 0 1 0 1.50 0a0.75 0.75 0 1 0 -1.50 0M699.74 490.88a0.75 0.75 0 1 0 1.50 0a0.75 0.75 0 1 0 -1.50 0M697.10 493.52a0.75 0.75 0 1 0 1.50 0a0.75 0.75 0 1 0 -1.50 0M699.74 496.16a0.75 0.75 0 1 0 1.50 0a0.75 0.75 0 1 0 -1.50 0M697.10 498.80a0.75 0.75 0 1 0 1.50 0a0.75 0.75 0 1 0 -1.50 0M699.74 501.44a0.75 0.75 0 1 0 1.50 0a0.75 0.75 0 1 0 -1.50 0M697.10 504.08a0.75 0.75 0 1 0 1.50 0a0.75 0.75 0 1 0 -1.50 0M699.74 506.72a0.75 0.75 0 1 0 1.50 0a0.75 0.75 0 1 0 -1.50 0M697.10 509.36a0.75 0.75 0 1 0 1.50 0a0.75 0.75 0 1 0 -1.50 0M699.74 512.00a0.75 0.75 0 1 0 1.50 0a0.75 0.75 0 1 0 -1.50 0M697.10 514.64a0.75 0.75 0 1 0 1.50 0a0.75 0.75 0 1 0 -1.50 0M699.74 517.28a0.75 0.75 0 1 0 1.50 0a0.75 0.75 0 1 0 -1.50 0M697.10 519.92a0.75 0.75 0 1 0 1.50 0a0.75 0.75 0 1 0 -1.50 0M699.74 522.56a0.75 0.75 0 1 0 1.50 0a0.75 0.75 0 1 0 -1.50 0M697.10 525.20a0.75 0.75 0 1 0 1.50 0a0.75 0.75 0 1 0 -1.50 0M699.74 527.84a0.75 0.75 0 1 0 1.50 0a0.75 0.75 0 1 0 -1.50 0M697.10 530.48a0.75 0.75 0 1 0 1.50 0a0.75 0.75 0 1 0 -1.50 0M699.74 533.12a0.75 0.75 0 1 0 1.50 0a0.75 0.75 0 1 0 -1.50 0M697.10 535.76a0.75 0.75 0 1 0 1.50 0a0.75 0.75 0 1 0 -1.50 0M702.38 488.24a0.75 0.75 0 1 0 1.50 0a0.75 0.75 0 1 0 -1.50 0M705.02 490.88a0.75 0.75 0 1 0 1.50 0a0.75 0.75 0 1 0 -1.50 0M702.38 493.52a0.75 0.75 0 1 0 1.50 0a0.75 0.75 0 1 0 -1.50 0M705.02 496.16a0.75 0.75 0 1 0 1.50 0a0.75 0.75 0 1 0 -1.50 0M702.38 498.80a0.75 0.75 0 1 0 1.50 0a0.75 0.75 0 1 0 -1.50 0M705.02 501.44a0.75 0.75 0 1 0 1.50 0a0.75 0.75 0 1 0 -1.50 0M702.38 504.08a0.75 0.75 0 1 0 1.50 0a0.75 0.75 0 1 0 -1.50 0M705.02 506.72a0.75 0.75 0 1 0 1.50 0a0.75 0.75 0 1 0 -1.50 0M702.38 509.36a0.75 0.75 0 1 0 1.50 0a0.75 0.75 0 1 0 -1.50 0M705.02 512.00a0.75 0.75 0 1 0 1.50 0a0.75 0.75 0 1 0 -1.50 0M702.38 514.64a0.75 0.75 0 1 0 1.50 0a0.75 0.75 0 1 0 -1.50 0M705.02 517.28a0.75 0.75 0 1 0 1.50 0a0.75 0.75 0 1 0 -1.50 0M702.38 519.92a0.75 0.75 0 1 0 1.50 0a0.75 0.75 0 1 0 -1.50 0M705.02 522.56a0.75 0.75 0 1 0 1.50 0a0.75 0.75 0 1 0 -1.50 0M702.38 525.20a0.75 0.75 0 1 0 1.50 0a0.75 0.75 0 1 0 -1.50 0M705.02 527.84a0.75 0.75 0 1 0 1.50 0a0.75 0.75 0 1 0 -1.50 0M702.38 530.48a0.75 0.75 0 1 0 1.50 0a0.75 0.75 0 1 0 -1.50 0M705.02 533.12a0.75 0.75 0 1 0 1.50 0a0.75 0.75 0 1 0 -1.50 0M702.38 535.76a0.75 0.75 0 1 0 1.50 0a0.75 0.75 0 1 0 -1.50 0M707.66 488.24a0.75 0.75 0 1 0 1.50 0a0.75 0.75 0 1 0 -1.50 0M710.30 490.88a0.75 0.75 0 1 0 1.50 0a0.75 0.75 0 1 0 -1.50 0M707.66 493.52a0.75 0.75 0 1 0 1.50 0a0.75 0.75 0 1 0 -1.50 0M710.30 496.16a0.75 0.75 0 1 0 1.50 0a0.75 0.75 0 1 0 -1.50 0M707.66 498.80a0.75 0.75 0 1 0 1.50 0a0.75 0.75 0 1 0 -1.50 0M710.30 501.44a0.75 0.75 0 1 0 1.50 0a0.75 0.75 0 1 0 -1.50 0M707.66 504.08a0.75 0.75 0 1 0 1.50 0a0.75 0.75 0 1 0 -1.50 0M710.30 506.72a0.75 0.75 0 1 0 1.50 0a0.75 0.75 0 1 0 -1.50 0M707.66 509.36a0.75 0.75 0 1 0 1.50 0a0.75 0.75 0 1 0 -1.50 0M710.30 512.00a0.75 0.75 0 1 0 1.50 0a0.75 0.75 0 1 0 -1.50 0M707.66 514.64a0.75 0.75 0 1 0 1.50 0a0.75 0.75 0 1 0 -1.50 0M710.30 517.28a0.75 0.75 0 1 0 1.50 0a0.75 0.75 0 1 0 -1.50 0M707.66 519.92a0.75 0.75 0 1 0 1.50 0a0.75 0.75 0 1 0 -1.50 0M710.30 522.56a0.75 0.75 0 1 0 1.50 0a0.75 0.75 0 1 0 -1.50 0M707.66 525.20a0.75 0.75 0 1 0 1.50 0a0.75 0.75 0 1 0 -1.50 0M710.30 527.84a0.75 0.75 0 1 0 1.50 0a0.75 0.75 0 1 0 -1.50 0M707.66 530.48a0.75 0.75 0 1 0 1.50 0a0.75 0.75 0 1 0 -1.50 0M710.30 533.12a0.75 0.75 0 1 0 1.50 0a0.75 0.75 0 1 0 -1.50 0M707.66 535.76a0.75 0.75 0 1 0 1.50 0a0.75 0.75 0 1 0 -1.50 0M712.94 488.24a0.75 0.75 0 1 0 1.50 0a0.75 0.75 0 1 0 -1.50 0M715.58 490.88a0.75 0.75 0 1 0 1.50 0a0.75 0.75 0 1 0 -1.50 0M712.94 493.52a0.75 0.75 0 1 0 1.50 0a0.75 0.75 0 1 0 -1.50 0M715.58 496.16a0.75 0.75 0 1 0 1.50 0a0.75 0.75 0 1 0 -1.50 0M712.94 498.80a0.75 0.75 0 1 0 1.50 0a0.75 0.75 0 1 0 -1.50 0M715.58 501.44a0.75 0.75 0 1 0 1.50 0a0.75 0.75 0 1 0 -1.50 0M712.94 504.08a0.75 0.75 0 1 0 1.50 0a0.75 0.75 0 1 0 -1.50 0M715.58 506.72a0.75 0.75 0 1 0 1.50 0a0.75 0.75 0 1 0 -1.50 0M712.94 509.36a0.75 0.75 0 1 0 1.50 0a0.75 0.75 0 1 0 -1.50 0M715.58 512.00a0.75 0.75 0 1 0 1.50 0a0.75 0.75 0 1 0 -1.50 0M712.94 514.64a0.75 0.75 0 1 0 1.50 0a0.75 0.75 0 1 0 -1.50 0M715.58 517.28a0.75 0.75 0 1 0 1.50 0a0.75 0.75 0 1 0 -1.50 0M712.94 519.92a0.75 0.75 0 1 0 1.50 0a0.75 0.75 0 1 0 -1.50 0M715.58 522.56a0.75 0.75 0 1 0 1.50 0a0.75 0.75 0 1 0 -1.50 0M712.94 525.20a0.75 0.75 0 1 0 1.50 0a0.75 0.75 0 1 0 -1.50 0M715.58 527.84a0.75 0.75 0 1 0 1.50 0a0.75 0.75 0 1 0 -1.50 0M712.94 530.48a0.75 0.75 0 1 0 1.50 0a0.75 0.75 0 1 0 -1.50 0M715.58 533.12a0.75 0.75 0 1 0 1.50 0a0.75 0.75 0 1 0 -1.50 0M712.94 535.76a0.75 0.75 0 1 0 1.50 0a0.75 0.75 0 1 0 -1.50 0M718.22 488.24a0.75 0.75 0 1 0 1.50 0a0.75 0.75 0 1 0 -1.50 0M720.86 490.88a0.75 0.75 0 1 0 1.50 0a0.75 0.75 0 1 0 -1.50 0M718.22 493.52a0.75 0.75 0 1 0 1.50 0a0.75 0.75 0 1 0 -1.50 0M720.86 496.16a0.75 0.75 0 1 0 1.50 0a0.75 0.75 0 1 0 -1.50 0M718.22 498.80a0.75 0.75 0 1 0 1.50 0a0.75 0.75 0 1 0 -1.50 0M720.86 501.44a0.75 0.75 0 1 0 1.50 0a0.75 0.75 0 1 0 -1.50 0M718.22 504.08a0.75 0.75 0 1 0 1.50 0a0.75 0.75 0 1 0 -1.50 0M720.86 506.72a0.75 0.75 0 1 0 1.50 0a0.75 0.75 0 1 0 -1.50 0M718.22 509.36a0.75 0.75 0 1 0 1.50 0a0.75 0.75 0 1 0 -1.50 0M720.86 512.00a0.75 0.75 0 1 0 1.50 0a0.75 0.75 0 1 0 -1.50 0M718.22 514.64a0.75 0.75 0 1 0 1.50 0a0.75 0.75 0 1 0 -1.50 0M720.86 517.28a0.75 0.75 0 1 0 1.50 0a0.75 0.75 0 1 0 -1.50 0M718.22 519.92a0.75 0.75 0 1 0 1.50 0a0.75 0.75 0 1 0 -1.50 0M720.86 522.56a0.75 0.75 0 1 0 1.50 0a0.75 0.75 0 1 0 -1.50 0M718.22 525.20a0.75 0.75 0 1 0 1.50 0a0.75 0.75 0 1 0 -1.50 0M720.86 527.84a0.75 0.75 0 1 0 1.50 0a0.75 0.75 0 1 0 -1.50 0M718.22 530.48a0.75 0.75 0 1 0 1.50 0a0.75 0.75 0 1 0 -1.50 0M720.86 533.12a0.75 0.75 0 1 0 1.50 0a0.75 0.75 0 1 0 -1.50 0M718.22 535.76a0.75 0.75 0 1 0 1.50 0a0.75 0.75 0 1 0 -1.50 0M723.50 488.24a0.75 0.75 0 1 0 1.50 0a0.75 0.75 0 1 0 -1.50 0M726.14 490.88a0.75 0.75 0 1 0 1.50 0a0.75 0.75 0 1 0 -1.50 0M723.50 493.52a0.75 0.75 0 1 0 1.50 0a0.75 0.75 0 1 0 -1.50 0M726.14 496.16a0.75 0.75 0 1 0 1.50 0a0.75 0.75 0 1 0 -1.50 0M723.50 498.80a0.75 0.75 0 1 0 1.50 0a0.75 0.75 0 1 0 -1.50 0M726.14 501.44a0.75 0.75 0 1 0 1.50 0a0.75 0.75 0 1 0 -1.50 0M723.50 504.08a0.75 0.75 0 1 0 1.50 0a0.75 0.75 0 1 0 -1.50 0M726.14 506.72a0.75 0.75 0 1 0 1.50 0a0.75 0.75 0 1 0 -1.50 0M723.50 509.36a0.75 0.75 0 1 0 1.50 0a0.75 0.75 0 1 0 -1.50 0M726.14 512.00a0.75 0.75 0 1 0 1.50 0a0.75 0.75 0 1 0 -1.50 0M723.50 514.64a0.75 0.75 0 1 0 1.50 0a0.75 0.75 0 1 0 -1.50 0M726.14 517.28a0.75 0.75 0 1 0 1.50 0a0.75 0.75 0 1 0 -1.50 0M723.50 519.92a0.75 0.75 0 1 0 1.50 0a0.75 0.75 0 1 0 -1.50 0M726.14 522.56a0.75 0.75 0 1 0 1.50 0a0.75 0.75 0 1 0 -1.50 0M723.50 525.20a0.75 0.75 0 1 0 1.50 0a0.75 0.75 0 1 0 -1.50 0M726.14 527.84a0.75 0.75 0 1 0 1.50 0a0.75 0.75 0 1 0 -1.50 0M723.50 530.48a0.75 0.75 0 1 0 1.50 0a0.75 0.75 0 1 0 -1.50 0M726.14 533.12a0.75 0.75 0 1 0 1.50 0a0.75 0.75 0 1 0 -1.50 0M723.50 535.76a0.75 0.75 0 1 0 1.50 0a0.75 0.75 0 1 0 -1.50 0M728.78 488.24a0.75 0.75 0 1 0 1.50 0a0.75 0.75 0 1 0 -1.50 0M731.42 490.88a0.75 0.75 0 1 0 1.50 0a0.75 0.75 0 1 0 -1.50 0M728.78 493.52a0.75 0.75 0 1 0 1.50 0a0.75 0.75 0 1 0 -1.50 0M731.42 496.16a0.75 0.75 0 1 0 1.50 0a0.75 0.75 0 1 0 -1.50 0M728.78 498.80a0.75 0.75 0 1 0 1.50 0a0.75 0.75 0 1 0 -1.50 0M731.42 501.44a0.75 0.75 0 1 0 1.50 0a0.75 0.75 0 1 0 -1.50 0M728.78 504.08a0.75 0.75 0 1 0 1.50 0a0.75 0.75 0 1 0 -1.50 0M731.42 506.72a0.75 0.75 0 1 0 1.50 0a0.75 0.75 0 1 0 -1.50 0M728.78 509.36a0.75 0.75 0 1 0 1.50 0a0.75 0.75 0 1 0 -1.50 0M731.42 512.00a0.75 0.75 0 1 0 1.50 0a0.75 0.75 0 1 0 -1.50 0M728.78 514.64a0.75 0.75 0 1 0 1.50 0a0.75 0.75 0 1 0 -1.50 0M731.42 517.28a0.75 0.75 0 1 0 1.50 0a0.75 0.75 0 1 0 -1.50 0M728.78 519.92a0.75 0.75 0 1 0 1.50 0a0.75 0.75 0 1 0 -1.50 0M731.42 522.56a0.75 0.75 0 1 0 1.50 0a0.75 0.75 0 1 0 -1.50 0M728.78 525.20a0.75 0.75 0 1 0 1.50 0a0.75 0.75 0 1 0 -1.50 0M731.42 527.84a0.75 0.75 0 1 0 1.50 0a0.75 0.75 0 1 0 -1.50 0M728.78 530.48a0.75 0.75 0 1 0 1.50 0a0.75 0.75 0 1 0 -1.50 0M731.42 533.12a0.75 0.75 0 1 0 1.50 0a0.75 0.75 0 1 0 -1.50 0M728.78 535.76a0.75 0.75 0 1 0 1.50 0a0.75 0.75 0 1 0 -1.50 0M734.06 488.24a0.75 0.75 0 1 0 1.50 0a0.75 0.75 0 1 0 -1.50 0M734.06 493.52a0.75 0.75 0 1 0 1.50 0a0.75 0.75 0 1 0 -1.50 0M734.06 498.80a0.75 0.75 0 1 0 1.50 0a0.75 0.75 0 1 0 -1.50 0M734.06 504.08a0.75 0.75 0 1 0 1.50 0a0.75 0.75 0 1 0 -1.50 0M734.06 509.36a0.75 0.75 0 1 0 1.50 0a0.75 0.75 0 1 0 -1.50 0M734.06 514.64a0.75 0.75 0 1 0 1.50 0a0.75 0.75 0 1 0 -1.50 0M734.06 519.92a0.75 0.75 0 1 0 1.50 0a0.75 0.75 0 1 0 -1.50 0M734.06 525.20a0.75 0.75 0 1 0 1.50 0a0.75 0.75 0 1 0 -1.50 0M734.06 530.48a0.75 0.75 0 1 0 1.50 0a0.75 0.75 0 1 0 -1.50 0M734.06 535.76a0.75 0.75 0 1 0 1.50 0a0.75 0.75 0 1 0 -1.50 0" fill="#000"/></g><rect x="549.5" y="486.4" width="184.9" height="48.9" rx="1.3" fill="none" stroke="#000" stroke-width="1.8"/>
<rect x="407.9" y="616.2" width="1.3" height="3" fill="#000"/>

<!-- ===== TABLE ===== -->
<g stroke="#111" stroke-width="1.8">
 <line x1="0" y1="670.7" x2="1214" y2="670.7"/>
 <line x1="0" y1="707.2" x2="1214" y2="707.2"/>
 <line x1="0" y1="731.8" x2="1000" y2="731.8"/>
 <line x1="346" y1="707" x2="346" y2="854"/>
 <line x1="662.5" y1="707" x2="662.5" y2="854"/>
 <line x1="999.5" y1="707" x2="999.5" y2="854"/>
</g>
<g class="t">
 <text x="15.8" y="693.9" textLength="36.6" lengthAdjust="spacingAndGlyphs">Please</text>
 <text x="57.3" y="693.9" textLength="29.7" lengthAdjust="spacingAndGlyphs">Note,</text>
 <text x="92.7" y="693.9" textLength="22.3" lengthAdjust="spacingAndGlyphs">due</text>
 <text x="117.4" y="693.9" textLength="13.3" lengthAdjust="spacingAndGlyphs">to</text>
 <text x="134.7" y="693.9" textLength="20.7" lengthAdjust="spacingAndGlyphs">the</text>
 <text x="158.6" y="693.9" textLength="29.7" lengthAdjust="spacingAndGlyphs">hand</text>
 <text x="190.7" y="693.9" textLength="42.6" lengthAdjust="spacingAndGlyphs">crafted</text>
 <text x="236.6" y="693.9" textLength="40.4" lengthAdjust="spacingAndGlyphs">nature</text>
 <text x="280.2" y="693.9" textLength="11.6" lengthAdjust="spacingAndGlyphs">of</text>
 <text x="295.1" y="693.9" textLength="20.6" lengthAdjust="spacingAndGlyphs">our</text>
 <text x="318.9" y="693.9" textLength="52.0" lengthAdjust="spacingAndGlyphs">products</text>
 <text x="375.0" y="693.9" textLength="14.9" lengthAdjust="spacingAndGlyphs">all</text>
 <text x="392.0" y="693.9" textLength="88.2" lengthAdjust="spacingAndGlyphs">measurements</text>
 <text x="484.2" y="693.9" textLength="19.1" lengthAdjust="spacingAndGlyphs">are</text>
 <text x="506.5" y="693.9" textLength="75.8" lengthAdjust="spacingAndGlyphs">approximate</text>
 <text x="584.9" y="693.9" textLength="22.7" lengthAdjust="spacingAndGlyphs">and</text>
 <text x="611.2" y="693.9" textLength="39.0" lengthAdjust="spacingAndGlyphs">should</text>
 <text x="654.7" y="693.9" textLength="14.5" lengthAdjust="spacingAndGlyphs">be</text>
 <text x="673.7" y="693.9" textLength="27.2" lengthAdjust="spacingAndGlyphs">used</text>
 <text x="704.5" y="693.9" textLength="12.7" lengthAdjust="spacingAndGlyphs">as</text>
 <text x="720.9" y="693.9" textLength="7.2" lengthAdjust="spacingAndGlyphs">a</text>
 <text x="730.8" y="693.9" textLength="32.6" lengthAdjust="spacingAndGlyphs">guide</text>
 <text x="767.1" y="693.9" textLength="28.1" lengthAdjust="spacingAndGlyphs">only.</text>
 <text x="16.3" y="723.3" textLength="118.4" lengthAdjust="spacingAndGlyphs">Product Information</text>
 <text x="16" y="754.4" textLength="83" lengthAdjust="spacingAndGlyphs">Product Code:</text>
 <text x="16" y="775.2" textLength="70.7" lengthAdjust="spacingAndGlyphs">Description:</text>
 <text x="16" y="815.6" textLength="37.4" lengthAdjust="spacingAndGlyphs">Finish:</text>
 <text x="16" y="836.3" textLength="84.5" lengthAdjust="spacingAndGlyphs">Base Material:</text>
 <text x="121.1" y="754.4" textLength="35.7" lengthAdjust="spacingAndGlyphs">45668</text>
 <text x="121.1" y="775.2" textLength="166.7" lengthAdjust="spacingAndGlyphs">Brompton Lever on Rose Set</text>
 <text x="121.1" y="795.2" textLength="59.6" lengthAdjust="spacingAndGlyphs">(Art Deco)</text>
 <text x="121.1" y="815.6" textLength="88" lengthAdjust="spacingAndGlyphs">Polished Nickel</text>
 <text x="121.1" y="836.3" textLength="30" lengthAdjust="spacingAndGlyphs">Brass</text>

 <text x="360.4" y="723.1" textLength="83.4" lengthAdjust="spacingAndGlyphs">Pack Contents</text>
 <text x="360.4" y="746.0" textLength="68" lengthAdjust="spacingAndGlyphs">2 x Handles</text>
 <text x="360.4" y="766.4" textLength="59.6" lengthAdjust="spacingAndGlyphs">2 x Covers</text>
 <text x="360.4" y="787.0" textLength="194.4" lengthAdjust="spacingAndGlyphs">1 x Split Spindle (8mm x 110mm)</text>
 <text x="360.4" y="807.5" textLength="194.4" lengthAdjust="spacingAndGlyphs">1 x Split Spindle (8mm x 140mm)</text>
 <text x="360.4" y="828.0" textLength="107.4" lengthAdjust="spacingAndGlyphs">1 x Steel Allen Key</text>
 <text x="360.4" y="848.3" textLength="105.8" lengthAdjust="spacingAndGlyphs">12 x Fixing Screws</text>

 <text x="677.3" y="722.9" textLength="77.8" lengthAdjust="spacingAndGlyphs">Fixing Screws</text>
 <text x="675" y="746.9" textLength="26.8" lengthAdjust="spacingAndGlyphs">Size:</text>
 <text x="675" y="767.1" textLength="31.1" lengthAdjust="spacingAndGlyphs">Type:</text>
 <text x="675" y="787.9" textLength="26.8" lengthAdjust="spacingAndGlyphs">Size:</text>
 <text x="675" y="808.3" textLength="31.1" lengthAdjust="spacingAndGlyphs">Type:</text>
 <text x="675" y="828.4" textLength="37.8" lengthAdjust="spacingAndGlyphs">Finish:</text>
 <text x="675" y="849.2" textLength="84.5" lengthAdjust="spacingAndGlyphs">Base Material:</text>
 <text x="780.2" y="746.9" textLength="201.8" lengthAdjust="spacingAndGlyphs">8 x Gauge 8 x 3/4” (4mm x 19mm)</text>
 <text x="780.2" y="767.1" textLength="75" lengthAdjust="spacingAndGlyphs">Countersunk</text>
 <text x="780.2" y="787.9" textLength="112.8" lengthAdjust="spacingAndGlyphs">4 x 90mm &amp; 16mm</text>
 <text x="780.2" y="808.3" textLength="161.5" lengthAdjust="spacingAndGlyphs">Slotted Male &amp; Female Bolt</text>
 <text x="780.2" y="828.4" textLength="83.6" lengthAdjust="spacingAndGlyphs">Stainless Steel</text>
 <text x="780.2" y="849.2" textLength="83.6" lengthAdjust="spacingAndGlyphs">Stainless Steel</text>
</g>

<!-- ===== LOGO ===== -->
<g fill="#111">
 <path d="M1035.6 751.8Q1036.5 749.8 1039.8 749.5L1073.3 749.2L1074.6 750.4L1090.3 751.4Q1091.2 752.4 1089.6 753.2L1072.9 760L1085 793.4L1075.9 793.4L1072.6 783.9L1054.2 783.9L1051 793.4L1042.5 793.4L1053.9 763ZM1063.4 760L1057.2 777.4L1069.6 777.4Z" fill-rule="evenodd"/>
 <text x="1089" y="793.4" font-family="Liberation Serif" font-size="58" stroke="#111" stroke-width="0.9" textLength="92" lengthAdjust="spacingAndGlyphs">nvıl</text>
 <text x="1098.5" y="759.8" font-family="Liberation Serif" font-size="13" textLength="48.8" lengthAdjust="spacingAndGlyphs">From the</text>
 <text x="1042.5" y="808.4" font-family="Liberation Serif" font-style="italic" font-size="12" textLength="137" lengthAdjust="spacingAndGlyphs">www.fromtheanvil.co.uk</text>
 <path d="M1156.4 754.2L1159.7 757.5L1156.4 760.8L1153.1 757.5Z"/>
 <circle cx="1180.8" cy="752.3" r="2.8" fill="none" stroke="#999" stroke-width="0.7"/>
 <circle cx="1180.8" cy="752.3" r="1" fill="#777"/>
</g>
</svg>
</body></html>
